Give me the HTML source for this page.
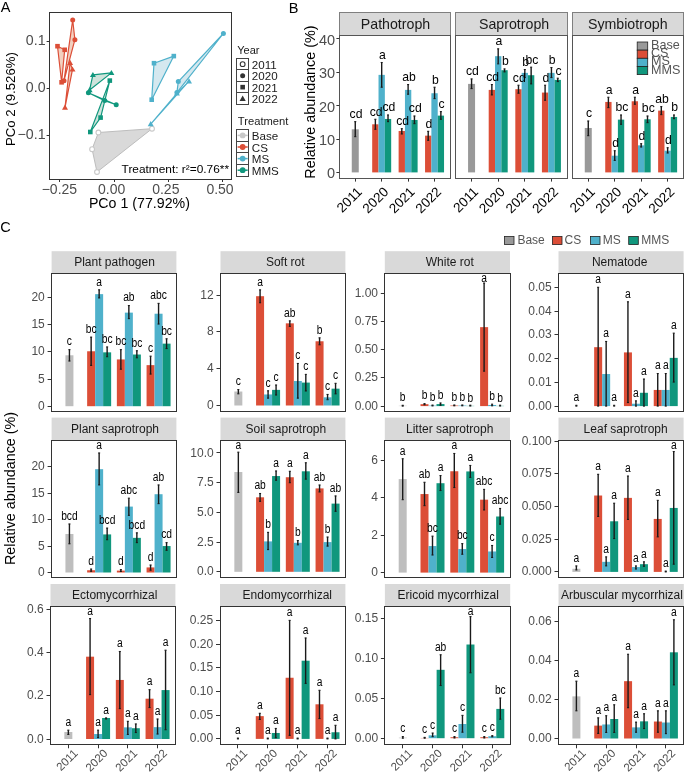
<!DOCTYPE html>
<html><head><meta charset="utf-8"><title>Figure</title>
<style>html,body{margin:0;padding:0;background:#fff;width:685px;height:777px;overflow:hidden}svg{display:block;font-family:"Liberation Sans",sans-serif;will-change:transform}</style>
</head><body>
<svg width="685" height="777" viewBox="0 0 685 777" font-family="Liberation Sans, sans-serif">
<rect width="685" height="777" fill="#fff"/>
<text x="0.7" y="12.4" font-size="14.5" fill="#000" text-anchor="start" >A</text>
<text x="288.8" y="12.5" font-size="14.5" fill="#000" text-anchor="start" >B</text>
<text x="0.2" y="231.9" font-size="14.5" fill="#000" text-anchor="start" >C</text>
<rect x="49.5" y="12.5" width="182" height="167" fill="#fff" stroke="#333" stroke-width="1" />
<polygon points="98.4,132.5 152,128.7 97,172 92.1,149.2" fill="#D9D9D9" fill-opacity="1" stroke="#BDBDBD" stroke-width="1" stroke-linejoin="round"/>
<polygon points="72.7,20 74.9,39.7 64,80.7" fill="#F2D0C0" fill-opacity="1" stroke="none" stroke-width="0" stroke-linejoin="round"/>
<polygon points="57.5,46.2 64.7,49.8 61.6,82.3" fill="#F2D0C0" fill-opacity="1" stroke="none" stroke-width="0" stroke-linejoin="round"/>
<polygon points="70.1,62.7 72.5,69.4 65,107.5" fill="#F2D0C0" fill-opacity="1" stroke="none" stroke-width="0" stroke-linejoin="round"/>
<polygon points="92.9,74.9 111.4,72.9 89.6,90" fill="#CFE3DB" fill-opacity="1" stroke="none" stroke-width="0" stroke-linejoin="round"/>
<polygon points="88.4,92.7 104.7,100.6 116.2,104.8" fill="#CFE3DB" fill-opacity="1" stroke="none" stroke-width="0" stroke-linejoin="round"/>
<polygon points="109.8,80.6 100.6,117.6 90.3,132" fill="#CFE3DB" fill-opacity="1" stroke="none" stroke-width="0" stroke-linejoin="round"/>
<polygon points="154,63.2 173.8,56.1 151.7,99.7" fill="#D5E8EF" fill-opacity="1" stroke="none" stroke-width="0" stroke-linejoin="round"/>
<polygon points="223.4,33.5 178.3,81.6 176.9,92.6" fill="#D5E8EF" fill-opacity="1" stroke="none" stroke-width="0" stroke-linejoin="round"/>
<polygon points="189,81.2 176.9,93.4 150.7,124.1" fill="#D5E8EF" fill-opacity="1" stroke="none" stroke-width="0" stroke-linejoin="round"/>
<polygon points="72.7,20 74.9,39.7 64,80.7" fill="none" fill-opacity="1" stroke="#DC4E37" stroke-width="1.2" stroke-linejoin="round"/>
<polygon points="57.5,46.2 64.7,49.8 61.6,82.3" fill="none" fill-opacity="1" stroke="#DC4E37" stroke-width="1.2" stroke-linejoin="round"/>
<polygon points="70.1,62.7 72.5,69.4 65,107.5" fill="none" fill-opacity="1" stroke="#DC4E37" stroke-width="1.2" stroke-linejoin="round"/>
<polygon points="92.9,74.9 111.4,72.9 89.6,90" fill="none" fill-opacity="1" stroke="#10977D" stroke-width="1.2" stroke-linejoin="round"/>
<polygon points="88.4,92.7 104.7,100.6 116.2,104.8" fill="none" fill-opacity="1" stroke="#10977D" stroke-width="1.2" stroke-linejoin="round"/>
<polygon points="109.8,80.6 100.6,117.6 90.3,132" fill="none" fill-opacity="1" stroke="#10977D" stroke-width="1.2" stroke-linejoin="round"/>
<polygon points="154,63.2 173.8,56.1 151.7,99.7" fill="none" fill-opacity="1" stroke="#4FB1CB" stroke-width="1.2" stroke-linejoin="round"/>
<polygon points="223.4,33.5 178.3,81.6 176.9,92.6" fill="none" fill-opacity="1" stroke="#4FB1CB" stroke-width="1.2" stroke-linejoin="round"/>
<polygon points="189,81.2 176.9,93.4 150.7,124.1" fill="none" fill-opacity="1" stroke="#4FB1CB" stroke-width="1.2" stroke-linejoin="round"/>
<circle cx="98.4" cy="132.5" r="2.4" fill="#fff" stroke="#C8C8C8" stroke-width="1.1"/>
<circle cx="152" cy="128.7" r="2.4" fill="#fff" stroke="#C8C8C8" stroke-width="1.1"/>
<circle cx="97" cy="172" r="2.4" fill="#fff" stroke="#C8C8C8" stroke-width="1.1"/>
<circle cx="92.1" cy="149.2" r="2.4" fill="#fff" stroke="#C8C8C8" stroke-width="1.1"/>
<circle cx="72.7" cy="20" r="2.5" fill="#DC4E37" stroke="none" stroke-width="0"/>
<circle cx="74.9" cy="39.7" r="2.5" fill="#DC4E37" stroke="none" stroke-width="0"/>
<circle cx="64" cy="80.7" r="2.5" fill="#DC4E37" stroke="none" stroke-width="0"/>
<circle cx="88.4" cy="92.7" r="2.5" fill="#10977D" stroke="none" stroke-width="0"/>
<circle cx="104.7" cy="100.6" r="2.5" fill="#10977D" stroke="none" stroke-width="0"/>
<circle cx="116.2" cy="104.8" r="2.5" fill="#10977D" stroke="none" stroke-width="0"/>
<circle cx="223.4" cy="33.5" r="2.5" fill="#4FB1CB" stroke="none" stroke-width="0"/>
<circle cx="178.3" cy="81.6" r="2.5" fill="#4FB1CB" stroke="none" stroke-width="0"/>
<circle cx="176.9" cy="92.6" r="2.5" fill="#4FB1CB" stroke="none" stroke-width="0"/>
<rect x="55.2" y="43.9" width="4.6" height="4.6" fill="#DC4E37" stroke="none" stroke-width="0" />
<rect x="62.4" y="47.5" width="4.6" height="4.6" fill="#DC4E37" stroke="none" stroke-width="0" />
<rect x="59.3" y="80" width="4.6" height="4.6" fill="#DC4E37" stroke="none" stroke-width="0" />
<rect x="107.5" y="78.3" width="4.6" height="4.6" fill="#10977D" stroke="none" stroke-width="0" />
<rect x="98.3" y="115.3" width="4.6" height="4.6" fill="#10977D" stroke="none" stroke-width="0" />
<rect x="88" y="129.7" width="4.6" height="4.6" fill="#10977D" stroke="none" stroke-width="0" />
<rect x="151.7" y="60.9" width="4.6" height="4.6" fill="#4FB1CB" stroke="none" stroke-width="0" />
<rect x="171.5" y="53.8" width="4.6" height="4.6" fill="#4FB1CB" stroke="none" stroke-width="0" />
<rect x="149.4" y="97.4" width="4.6" height="4.6" fill="#4FB1CB" stroke="none" stroke-width="0" />
<polygon points="70.1,59.69 67.1,64.89 73.1,64.89" fill="#DC4E37"/>
<polygon points="72.5,66.39 69.5,71.59 75.5,71.59" fill="#DC4E37"/>
<polygon points="65,104.49 62,109.69 68,109.69" fill="#DC4E37"/>
<polygon points="92.9,71.89 89.9,77.09 95.9,77.09" fill="#10977D"/>
<polygon points="111.4,69.89 108.4,75.09 114.4,75.09" fill="#10977D"/>
<polygon points="89.6,86.99 86.6,92.19 92.6,92.19" fill="#10977D"/>
<polygon points="189,78.19 186,83.39 192,83.39" fill="#4FB1CB"/>
<polygon points="176.9,90.39 173.9,95.59 179.9,95.59" fill="#4FB1CB"/>
<polygon points="150.7,121.09 147.7,126.29 153.7,126.29" fill="#4FB1CB"/>
<line x1="46.6" y1="41.5" x2="49.6" y2="41.5" stroke="#333" stroke-width="1" />
<text x="45.6" y="44.9" font-size="14.2" fill="#4D4D4D" text-anchor="end" >0.1</text>
<line x1="46.6" y1="88.5" x2="49.6" y2="88.5" stroke="#333" stroke-width="1" />
<text x="45.6" y="92.2" font-size="14.2" fill="#4D4D4D" text-anchor="end" >0.0</text>
<line x1="46.6" y1="135.5" x2="49.6" y2="135.5" stroke="#333" stroke-width="1" />
<text x="45.6" y="139.3" font-size="14.2" fill="#4D4D4D" text-anchor="end" >−0.1</text>
<line x1="59.5" y1="179" x2="59.5" y2="182" stroke="#333" stroke-width="1" />
<text x="59.4" y="194.3" font-size="14" fill="#4D4D4D" text-anchor="middle" >−0.25</text>
<line x1="114.5" y1="179" x2="114.5" y2="182" stroke="#333" stroke-width="1" />
<text x="111.6" y="194.3" font-size="14" fill="#4D4D4D" text-anchor="middle" >0.00</text>
<line x1="168.5" y1="179" x2="168.5" y2="182" stroke="#333" stroke-width="1" />
<text x="165.8" y="194.3" font-size="14" fill="#4D4D4D" text-anchor="middle" >0.25</text>
<line x1="222.5" y1="179" x2="222.5" y2="182" stroke="#333" stroke-width="1" />
<text x="220" y="194.3" font-size="14" fill="#4D4D4D" text-anchor="middle" >0.50</text>
<text x="139.4" y="208.4" font-size="14" fill="#000" text-anchor="middle" textLength="101" lengthAdjust="spacingAndGlyphs">PCo 1 (77.92%)</text>
<text transform="translate(15.2,99.1) rotate(-90)" font-size="13.6" text-anchor="middle" fill="#000" textLength="94" lengthAdjust="spacingAndGlyphs">PCo 2 (9.526%)</text>
<text x="121.6" y="172.5" font-size="11.8" fill="#000" text-anchor="start" textLength="107.4" lengthAdjust="spacingAndGlyphs">Treatment: r²=0.76**</text>
<text x="237.3" y="53.8" font-size="11" fill="#1a1a1a" text-anchor="start" >Year</text>
<rect x="236.5" y="58.5" width="12" height="11" fill="#fff" stroke="#444" stroke-width="1" />
<circle cx="242.65" cy="64.15" r="2.4" fill="#fff" stroke="#333" stroke-width="1.1"/>
<text x="251.8" y="68.75" font-size="11.6" fill="#1a1a1a" text-anchor="start" >2011</text>
<rect x="236.5" y="69.5" width="12" height="12" fill="#fff" stroke="#444" stroke-width="1" />
<circle cx="242.65" cy="75.65" r="2.5" fill="#333" stroke="none" stroke-width="0"/>
<text x="251.8" y="80.25" font-size="11.6" fill="#1a1a1a" text-anchor="start" >2020</text>
<rect x="236.5" y="81.5" width="12" height="11" fill="#fff" stroke="#444" stroke-width="1" />
<rect x="240.35" y="84.85" width="4.6" height="4.6" fill="#333" stroke="none" stroke-width="0" />
<text x="251.8" y="91.75" font-size="11.6" fill="#1a1a1a" text-anchor="start" >2021</text>
<rect x="236.5" y="92.5" width="12" height="12" fill="#fff" stroke="#444" stroke-width="1" />
<polygon points="242.65,95.53 239.55,100.92 245.75,100.92" fill="#333"/>
<text x="251.8" y="103.25" font-size="11.6" fill="#1a1a1a" text-anchor="start" >2022</text>
<text x="237.8" y="125.3" font-size="11.2" fill="#1a1a1a" text-anchor="start" >Treatment</text>
<rect x="236.5" y="129.5" width="12" height="12" fill="#fff" stroke="#444" stroke-width="1" />
<line x1="237.6" y1="135.4" x2="247.7" y2="135.4" stroke="#C8C8C8" stroke-width="1.5" />
<circle cx="242.65" cy="135.4" r="2.9" fill="#C8C8C8" stroke="none" stroke-width="0"/>
<text x="251.8" y="140" font-size="11.6" fill="#1a1a1a" text-anchor="start" >Base</text>
<rect x="236.5" y="141.5" width="12" height="11" fill="#fff" stroke="#444" stroke-width="1" />
<line x1="237.6" y1="147" x2="247.7" y2="147" stroke="#DC4E37" stroke-width="1.5" />
<circle cx="242.65" cy="147" r="2.9" fill="#DC4E37" stroke="none" stroke-width="0"/>
<text x="251.8" y="151.6" font-size="11.6" fill="#1a1a1a" text-anchor="start" >CS</text>
<rect x="236.5" y="152.5" width="12" height="12" fill="#fff" stroke="#444" stroke-width="1" />
<line x1="237.6" y1="158.6" x2="247.7" y2="158.6" stroke="#4FB1CB" stroke-width="1.5" />
<circle cx="242.65" cy="158.6" r="2.9" fill="#4FB1CB" stroke="none" stroke-width="0"/>
<text x="251.8" y="163.2" font-size="11.6" fill="#1a1a1a" text-anchor="start" >MS</text>
<rect x="236.5" y="164.5" width="12" height="12" fill="#fff" stroke="#444" stroke-width="1" />
<line x1="237.6" y1="170.2" x2="247.7" y2="170.2" stroke="#10977D" stroke-width="1.5" />
<circle cx="242.65" cy="170.2" r="2.9" fill="#10977D" stroke="none" stroke-width="0"/>
<text x="251.8" y="174.8" font-size="11.6" fill="#1a1a1a" text-anchor="start" >MMS</text>
<rect x="339.5" y="12.5" width="111" height="23" fill="#D9D9D9" stroke="#7F7F7F" stroke-width="1" />
<text x="395.5" y="29.4" font-size="14.2" fill="#1a1a1a" text-anchor="middle" >Pathotroph</text>
<rect x="339.5" y="35.5" width="111" height="143" fill="#fff" stroke="#555" stroke-width="1" />
<rect x="351.76" y="129.31" width="7" height="43.09" fill="#999999" stroke="none" stroke-width="0" />
<line x1="355.26" y1="136.66" x2="355.26" y2="121.63" stroke="#1a1a1a" stroke-width="1.4" />
<line x1="354.26" y1="121.63" x2="356.26" y2="121.63" stroke="#1a1a1a" stroke-width="1.1" />
<line x1="354.26" y1="136.66" x2="356.26" y2="136.66" stroke="#1a1a1a" stroke-width="1.1" />
<rect x="372.19" y="124.3" width="6.33" height="48.1" fill="#DC4E37" stroke="none" stroke-width="0" />
<line x1="375.36" y1="129.31" x2="375.36" y2="119.29" stroke="#1a1a1a" stroke-width="1.4" />
<line x1="374.36" y1="119.29" x2="376.36" y2="119.29" stroke="#1a1a1a" stroke-width="1.1" />
<line x1="374.36" y1="129.31" x2="376.36" y2="129.31" stroke="#1a1a1a" stroke-width="1.1" />
<rect x="378.52" y="74.87" width="6.33" height="97.53" fill="#4FB1CB" stroke="none" stroke-width="0" />
<line x1="381.69" y1="87.23" x2="381.69" y2="62.51" stroke="#1a1a1a" stroke-width="1.4" />
<line x1="380.69" y1="62.51" x2="382.69" y2="62.51" stroke="#1a1a1a" stroke-width="1.1" />
<line x1="380.69" y1="87.23" x2="382.69" y2="87.23" stroke="#1a1a1a" stroke-width="1.1" />
<rect x="384.85" y="118.96" width="6.33" height="53.44" fill="#10977D" stroke="none" stroke-width="0" />
<line x1="388.02" y1="121.63" x2="388.02" y2="114.95" stroke="#1a1a1a" stroke-width="1.4" />
<line x1="387.02" y1="114.95" x2="389.02" y2="114.95" stroke="#1a1a1a" stroke-width="1.1" />
<line x1="387.02" y1="121.63" x2="389.02" y2="121.63" stroke="#1a1a1a" stroke-width="1.1" />
<rect x="398.62" y="130.98" width="6.33" height="41.42" fill="#DC4E37" stroke="none" stroke-width="0" />
<line x1="401.78" y1="133.99" x2="401.78" y2="128.65" stroke="#1a1a1a" stroke-width="1.4" />
<line x1="400.78" y1="128.65" x2="402.78" y2="128.65" stroke="#1a1a1a" stroke-width="1.1" />
<line x1="400.78" y1="133.99" x2="402.78" y2="133.99" stroke="#1a1a1a" stroke-width="1.1" />
<rect x="404.95" y="89.9" width="6.33" height="82.5" fill="#4FB1CB" stroke="none" stroke-width="0" />
<line x1="408.11" y1="94.24" x2="408.11" y2="84.56" stroke="#1a1a1a" stroke-width="1.4" />
<line x1="407.11" y1="84.56" x2="409.11" y2="84.56" stroke="#1a1a1a" stroke-width="1.1" />
<line x1="407.11" y1="94.24" x2="409.11" y2="94.24" stroke="#1a1a1a" stroke-width="1.1" />
<rect x="411.28" y="119.96" width="6.33" height="52.44" fill="#10977D" stroke="none" stroke-width="0" />
<line x1="414.44" y1="123.64" x2="414.44" y2="115.95" stroke="#1a1a1a" stroke-width="1.4" />
<line x1="413.44" y1="115.95" x2="415.44" y2="115.95" stroke="#1a1a1a" stroke-width="1.1" />
<line x1="413.44" y1="123.64" x2="415.44" y2="123.64" stroke="#1a1a1a" stroke-width="1.1" />
<rect x="425.05" y="135.66" width="6.33" height="36.74" fill="#DC4E37" stroke="none" stroke-width="0" />
<line x1="428.21" y1="140.34" x2="428.21" y2="131.32" stroke="#1a1a1a" stroke-width="1.4" />
<line x1="427.21" y1="131.32" x2="429.21" y2="131.32" stroke="#1a1a1a" stroke-width="1.1" />
<line x1="427.21" y1="140.34" x2="429.21" y2="140.34" stroke="#1a1a1a" stroke-width="1.1" />
<rect x="431.38" y="93.24" width="6.33" height="79.16" fill="#4FB1CB" stroke="none" stroke-width="0" />
<line x1="434.54" y1="98.59" x2="434.54" y2="87.23" stroke="#1a1a1a" stroke-width="1.4" />
<line x1="433.54" y1="87.23" x2="435.54" y2="87.23" stroke="#1a1a1a" stroke-width="1.1" />
<line x1="433.54" y1="98.59" x2="435.54" y2="98.59" stroke="#1a1a1a" stroke-width="1.1" />
<rect x="437.71" y="115.62" width="6.33" height="56.78" fill="#10977D" stroke="none" stroke-width="0" />
<line x1="440.87" y1="119.29" x2="440.87" y2="111.61" stroke="#1a1a1a" stroke-width="1.4" />
<line x1="439.87" y1="111.61" x2="441.87" y2="111.61" stroke="#1a1a1a" stroke-width="1.1" />
<line x1="439.87" y1="119.29" x2="441.87" y2="119.29" stroke="#1a1a1a" stroke-width="1.1" />
<text x="356.06" y="118.03" font-size="12.2" fill="#000" text-anchor="middle" >cd</text>
<text x="376.16" y="115.69" font-size="12.2" fill="#000" text-anchor="middle" >cd</text>
<text x="382.49" y="58.91" font-size="12.2" fill="#000" text-anchor="middle" >a</text>
<text x="388.82" y="111.35" font-size="12.2" fill="#000" text-anchor="middle" >cd</text>
<text x="402.58" y="125.05" font-size="12.2" fill="#000" text-anchor="middle" >cd</text>
<text x="408.91" y="80.96" font-size="12.2" fill="#000" text-anchor="middle" >ab</text>
<text x="415.24" y="112.35" font-size="12.2" fill="#000" text-anchor="middle" >cd</text>
<text x="429.01" y="127.72" font-size="12.2" fill="#000" text-anchor="middle" >d</text>
<text x="435.34" y="83.63" font-size="12.2" fill="#000" text-anchor="middle" >b</text>
<text x="441.67" y="108.01" font-size="12.2" fill="#000" text-anchor="middle" >c</text>
<line x1="355.5" y1="178.8" x2="355.5" y2="181.6" stroke="#333" stroke-width="1" />
<text transform="translate(355.96,185.8) rotate(-45)" font-size="13.5" text-anchor="end" fill="#000" dy="0.72em">2011</text>
<line x1="381.5" y1="178.8" x2="381.5" y2="181.6" stroke="#333" stroke-width="1" />
<text transform="translate(382.39,185.8) rotate(-45)" font-size="13.5" text-anchor="end" fill="#000" dy="0.72em">2020</text>
<line x1="408.5" y1="178.8" x2="408.5" y2="181.6" stroke="#333" stroke-width="1" />
<text transform="translate(408.81,185.8) rotate(-45)" font-size="13.5" text-anchor="end" fill="#000" dy="0.72em">2021</text>
<line x1="434.5" y1="178.8" x2="434.5" y2="181.6" stroke="#333" stroke-width="1" />
<text transform="translate(435.24,185.8) rotate(-45)" font-size="13.5" text-anchor="end" fill="#000" dy="0.72em">2022</text>
<line x1="336.4" y1="172.5" x2="339.4" y2="172.5" stroke="#333" stroke-width="1" />
<text x="335.2" y="178.4" font-size="14.5" fill="#4D4D4D" text-anchor="end" >0</text>
<line x1="336.4" y1="139.5" x2="339.4" y2="139.5" stroke="#333" stroke-width="1" />
<text x="335.2" y="145" font-size="14.5" fill="#4D4D4D" text-anchor="end" >10</text>
<line x1="336.4" y1="105.5" x2="339.4" y2="105.5" stroke="#333" stroke-width="1" />
<text x="335.2" y="111.6" font-size="14.5" fill="#4D4D4D" text-anchor="end" >20</text>
<line x1="336.4" y1="72.5" x2="339.4" y2="72.5" stroke="#333" stroke-width="1" />
<text x="335.2" y="78.2" font-size="14.5" fill="#4D4D4D" text-anchor="end" >30</text>
<line x1="336.4" y1="38.5" x2="339.4" y2="38.5" stroke="#333" stroke-width="1" />
<text x="335.2" y="44.8" font-size="14.5" fill="#4D4D4D" text-anchor="end" >40</text>
<rect x="455.5" y="12.5" width="112" height="23" fill="#D9D9D9" stroke="#7F7F7F" stroke-width="1" />
<text x="514.1" y="29.4" font-size="14.2" fill="#1a1a1a" text-anchor="middle" >Saprotroph</text>
<rect x="455.5" y="35.5" width="112" height="143" fill="#fff" stroke="#555" stroke-width="1" />
<rect x="468.07" y="83.89" width="7" height="88.51" fill="#999999" stroke="none" stroke-width="0" />
<line x1="471.57" y1="88.57" x2="471.57" y2="78.88" stroke="#1a1a1a" stroke-width="1.4" />
<line x1="470.57" y1="78.88" x2="472.57" y2="78.88" stroke="#1a1a1a" stroke-width="1.1" />
<line x1="470.57" y1="88.57" x2="472.57" y2="88.57" stroke="#1a1a1a" stroke-width="1.1" />
<rect x="488.7" y="89.9" width="6.33" height="82.5" fill="#DC4E37" stroke="none" stroke-width="0" />
<line x1="491.86" y1="94.91" x2="491.86" y2="84.56" stroke="#1a1a1a" stroke-width="1.4" />
<line x1="490.86" y1="84.56" x2="492.86" y2="84.56" stroke="#1a1a1a" stroke-width="1.1" />
<line x1="490.86" y1="94.91" x2="492.86" y2="94.91" stroke="#1a1a1a" stroke-width="1.1" />
<rect x="495.03" y="56.17" width="6.33" height="116.23" fill="#4FB1CB" stroke="none" stroke-width="0" />
<line x1="498.19" y1="63.85" x2="498.19" y2="48.82" stroke="#1a1a1a" stroke-width="1.4" />
<line x1="497.19" y1="48.82" x2="499.19" y2="48.82" stroke="#1a1a1a" stroke-width="1.1" />
<line x1="497.19" y1="63.85" x2="499.19" y2="63.85" stroke="#1a1a1a" stroke-width="1.1" />
<rect x="501.36" y="70.2" width="6.33" height="102.2" fill="#10977D" stroke="none" stroke-width="0" />
<line x1="504.52" y1="71.87" x2="504.52" y2="68.86" stroke="#1a1a1a" stroke-width="1.4" />
<line x1="503.52" y1="68.86" x2="505.52" y2="68.86" stroke="#1a1a1a" stroke-width="1.1" />
<line x1="503.52" y1="71.87" x2="505.52" y2="71.87" stroke="#1a1a1a" stroke-width="1.1" />
<rect x="515.31" y="89.23" width="6.33" height="83.17" fill="#DC4E37" stroke="none" stroke-width="0" />
<line x1="518.48" y1="93.24" x2="518.48" y2="85.23" stroke="#1a1a1a" stroke-width="1.4" />
<line x1="517.48" y1="85.23" x2="519.48" y2="85.23" stroke="#1a1a1a" stroke-width="1.1" />
<line x1="517.48" y1="93.24" x2="519.48" y2="93.24" stroke="#1a1a1a" stroke-width="1.1" />
<rect x="521.64" y="72.87" width="6.33" height="99.53" fill="#4FB1CB" stroke="none" stroke-width="0" />
<line x1="524.81" y1="77.54" x2="524.81" y2="69.53" stroke="#1a1a1a" stroke-width="1.4" />
<line x1="523.81" y1="69.53" x2="525.81" y2="69.53" stroke="#1a1a1a" stroke-width="1.1" />
<line x1="523.81" y1="77.54" x2="525.81" y2="77.54" stroke="#1a1a1a" stroke-width="1.1" />
<rect x="527.97" y="75.21" width="6.33" height="97.19" fill="#10977D" stroke="none" stroke-width="0" />
<line x1="531.14" y1="83.89" x2="531.14" y2="67.19" stroke="#1a1a1a" stroke-width="1.4" />
<line x1="530.14" y1="67.19" x2="532.14" y2="67.19" stroke="#1a1a1a" stroke-width="1.1" />
<line x1="530.14" y1="83.89" x2="532.14" y2="83.89" stroke="#1a1a1a" stroke-width="1.1" />
<rect x="541.93" y="92.57" width="6.33" height="79.83" fill="#DC4E37" stroke="none" stroke-width="0" />
<line x1="545.1" y1="100.26" x2="545.1" y2="85.23" stroke="#1a1a1a" stroke-width="1.4" />
<line x1="544.1" y1="85.23" x2="546.1" y2="85.23" stroke="#1a1a1a" stroke-width="1.1" />
<line x1="544.1" y1="100.26" x2="546.1" y2="100.26" stroke="#1a1a1a" stroke-width="1.1" />
<rect x="548.26" y="72.87" width="6.33" height="99.53" fill="#4FB1CB" stroke="none" stroke-width="0" />
<line x1="551.43" y1="77.54" x2="551.43" y2="67.52" stroke="#1a1a1a" stroke-width="1.4" />
<line x1="550.43" y1="67.52" x2="552.43" y2="67.52" stroke="#1a1a1a" stroke-width="1.1" />
<line x1="550.43" y1="77.54" x2="552.43" y2="77.54" stroke="#1a1a1a" stroke-width="1.1" />
<rect x="554.59" y="79.88" width="6.33" height="92.52" fill="#10977D" stroke="none" stroke-width="0" />
<line x1="557.76" y1="81.55" x2="557.76" y2="78.21" stroke="#1a1a1a" stroke-width="1.4" />
<line x1="556.76" y1="78.21" x2="558.76" y2="78.21" stroke="#1a1a1a" stroke-width="1.1" />
<line x1="556.76" y1="81.55" x2="558.76" y2="81.55" stroke="#1a1a1a" stroke-width="1.1" />
<text x="472.37" y="75.28" font-size="12.2" fill="#000" text-anchor="middle" >cd</text>
<text x="492.66" y="80.96" font-size="12.2" fill="#000" text-anchor="middle" >cd</text>
<text x="498.99" y="45.22" font-size="12.2" fill="#000" text-anchor="middle" >a</text>
<text x="505.32" y="65.26" font-size="12.2" fill="#000" text-anchor="middle" >b</text>
<text x="519.28" y="81.63" font-size="12.2" fill="#000" text-anchor="middle" >cd</text>
<text x="525.61" y="65.93" font-size="12.2" fill="#000" text-anchor="middle" >b</text>
<text x="531.94" y="63.59" font-size="12.2" fill="#000" text-anchor="middle" >bc</text>
<text x="545.9" y="81.63" font-size="12.2" fill="#000" text-anchor="middle" >d</text>
<text x="552.23" y="63.92" font-size="12.2" fill="#000" text-anchor="middle" >b</text>
<text x="558.56" y="74.61" font-size="12.2" fill="#000" text-anchor="middle" >c</text>
<line x1="471.5" y1="178.8" x2="471.5" y2="181.6" stroke="#333" stroke-width="1" />
<text transform="translate(472.27,185.8) rotate(-45)" font-size="13.5" text-anchor="end" fill="#000" dy="0.72em">2011</text>
<line x1="498.5" y1="178.8" x2="498.5" y2="181.6" stroke="#333" stroke-width="1" />
<text transform="translate(498.89,185.8) rotate(-45)" font-size="13.5" text-anchor="end" fill="#000" dy="0.72em">2020</text>
<line x1="524.5" y1="178.8" x2="524.5" y2="181.6" stroke="#333" stroke-width="1" />
<text transform="translate(525.51,185.8) rotate(-45)" font-size="13.5" text-anchor="end" fill="#000" dy="0.72em">2021</text>
<line x1="551.5" y1="178.8" x2="551.5" y2="181.6" stroke="#333" stroke-width="1" />
<text transform="translate(552.13,185.8) rotate(-45)" font-size="13.5" text-anchor="end" fill="#000" dy="0.72em">2022</text>
<rect x="572.5" y="12.5" width="111" height="23" fill="#D9D9D9" stroke="#7F7F7F" stroke-width="1" />
<text x="627.75" y="29.4" font-size="14.2" fill="#1a1a1a" text-anchor="middle" >Symbiotroph</text>
<rect x="572.5" y="35.5" width="111" height="143" fill="#fff" stroke="#555" stroke-width="1" />
<rect x="584.77" y="127.98" width="7" height="44.42" fill="#999999" stroke="none" stroke-width="0" />
<line x1="588.27" y1="135.66" x2="588.27" y2="120.96" stroke="#1a1a1a" stroke-width="1.4" />
<line x1="587.27" y1="120.96" x2="589.27" y2="120.96" stroke="#1a1a1a" stroke-width="1.1" />
<line x1="587.27" y1="135.66" x2="589.27" y2="135.66" stroke="#1a1a1a" stroke-width="1.1" />
<rect x="605.23" y="101.93" width="6.33" height="70.47" fill="#DC4E37" stroke="none" stroke-width="0" />
<line x1="608.39" y1="107.6" x2="608.39" y2="97.25" stroke="#1a1a1a" stroke-width="1.4" />
<line x1="607.39" y1="97.25" x2="609.39" y2="97.25" stroke="#1a1a1a" stroke-width="1.1" />
<line x1="607.39" y1="107.6" x2="609.39" y2="107.6" stroke="#1a1a1a" stroke-width="1.1" />
<rect x="611.56" y="155.7" width="6.33" height="16.7" fill="#4FB1CB" stroke="none" stroke-width="0" />
<line x1="614.72" y1="160.38" x2="614.72" y2="150.69" stroke="#1a1a1a" stroke-width="1.4" />
<line x1="613.72" y1="150.69" x2="615.72" y2="150.69" stroke="#1a1a1a" stroke-width="1.1" />
<line x1="613.72" y1="160.38" x2="615.72" y2="160.38" stroke="#1a1a1a" stroke-width="1.1" />
<rect x="617.89" y="119.63" width="6.33" height="52.77" fill="#10977D" stroke="none" stroke-width="0" />
<line x1="621.05" y1="124.3" x2="621.05" y2="114.95" stroke="#1a1a1a" stroke-width="1.4" />
<line x1="620.05" y1="114.95" x2="622.05" y2="114.95" stroke="#1a1a1a" stroke-width="1.1" />
<line x1="620.05" y1="124.3" x2="622.05" y2="124.3" stroke="#1a1a1a" stroke-width="1.1" />
<rect x="631.68" y="101.26" width="6.33" height="71.14" fill="#DC4E37" stroke="none" stroke-width="0" />
<line x1="634.85" y1="104.26" x2="634.85" y2="97.25" stroke="#1a1a1a" stroke-width="1.4" />
<line x1="633.85" y1="97.25" x2="635.85" y2="97.25" stroke="#1a1a1a" stroke-width="1.1" />
<line x1="633.85" y1="104.26" x2="635.85" y2="104.26" stroke="#1a1a1a" stroke-width="1.1" />
<rect x="638.01" y="145.35" width="6.33" height="27.05" fill="#4FB1CB" stroke="none" stroke-width="0" />
<line x1="641.18" y1="147.02" x2="641.18" y2="143.68" stroke="#1a1a1a" stroke-width="1.4" />
<line x1="640.18" y1="143.68" x2="642.18" y2="143.68" stroke="#1a1a1a" stroke-width="1.1" />
<line x1="640.18" y1="147.02" x2="642.18" y2="147.02" stroke="#1a1a1a" stroke-width="1.1" />
<rect x="644.34" y="119.29" width="6.33" height="53.11" fill="#10977D" stroke="none" stroke-width="0" />
<line x1="647.51" y1="122.63" x2="647.51" y2="115.95" stroke="#1a1a1a" stroke-width="1.4" />
<line x1="646.51" y1="115.95" x2="648.51" y2="115.95" stroke="#1a1a1a" stroke-width="1.1" />
<line x1="646.51" y1="122.63" x2="648.51" y2="122.63" stroke="#1a1a1a" stroke-width="1.1" />
<rect x="658.13" y="110.61" width="6.33" height="61.79" fill="#DC4E37" stroke="none" stroke-width="0" />
<line x1="661.3" y1="114.62" x2="661.3" y2="106.6" stroke="#1a1a1a" stroke-width="1.4" />
<line x1="660.3" y1="106.6" x2="662.3" y2="106.6" stroke="#1a1a1a" stroke-width="1.1" />
<line x1="660.3" y1="114.62" x2="662.3" y2="114.62" stroke="#1a1a1a" stroke-width="1.1" />
<rect x="664.46" y="150.69" width="6.33" height="21.71" fill="#4FB1CB" stroke="none" stroke-width="0" />
<line x1="667.63" y1="153.03" x2="667.63" y2="147.68" stroke="#1a1a1a" stroke-width="1.4" />
<line x1="666.63" y1="147.68" x2="668.63" y2="147.68" stroke="#1a1a1a" stroke-width="1.1" />
<line x1="666.63" y1="153.03" x2="668.63" y2="153.03" stroke="#1a1a1a" stroke-width="1.1" />
<rect x="670.79" y="116.96" width="6.33" height="55.44" fill="#10977D" stroke="none" stroke-width="0" />
<line x1="673.96" y1="118.63" x2="673.96" y2="114.95" stroke="#1a1a1a" stroke-width="1.4" />
<line x1="672.96" y1="114.95" x2="674.96" y2="114.95" stroke="#1a1a1a" stroke-width="1.1" />
<line x1="672.96" y1="118.63" x2="674.96" y2="118.63" stroke="#1a1a1a" stroke-width="1.1" />
<text x="589.07" y="117.36" font-size="12.2" fill="#000" text-anchor="middle" >c</text>
<text x="609.19" y="93.65" font-size="12.2" fill="#000" text-anchor="middle" >a</text>
<text x="615.52" y="147.09" font-size="12.2" fill="#000" text-anchor="middle" >d</text>
<text x="621.85" y="111.35" font-size="12.2" fill="#000" text-anchor="middle" >bc</text>
<text x="635.65" y="93.65" font-size="12.2" fill="#000" text-anchor="middle" >a</text>
<text x="641.98" y="140.08" font-size="12.2" fill="#000" text-anchor="middle" >d</text>
<text x="648.31" y="112.35" font-size="12.2" fill="#000" text-anchor="middle" >bc</text>
<text x="662.1" y="103" font-size="12.2" fill="#000" text-anchor="middle" >ab</text>
<text x="668.43" y="144.08" font-size="12.2" fill="#000" text-anchor="middle" >d</text>
<text x="674.76" y="111.35" font-size="12.2" fill="#000" text-anchor="middle" >b</text>
<line x1="588.5" y1="178.8" x2="588.5" y2="181.6" stroke="#333" stroke-width="1" />
<text transform="translate(588.97,185.8) rotate(-45)" font-size="13.5" text-anchor="end" fill="#000" dy="0.72em">2011</text>
<line x1="614.5" y1="178.8" x2="614.5" y2="181.6" stroke="#333" stroke-width="1" />
<text transform="translate(615.42,185.8) rotate(-45)" font-size="13.5" text-anchor="end" fill="#000" dy="0.72em">2020</text>
<line x1="641.5" y1="178.8" x2="641.5" y2="181.6" stroke="#333" stroke-width="1" />
<text transform="translate(641.88,185.8) rotate(-45)" font-size="13.5" text-anchor="end" fill="#000" dy="0.72em">2021</text>
<line x1="667.5" y1="178.8" x2="667.5" y2="181.6" stroke="#333" stroke-width="1" />
<text transform="translate(668.33,185.8) rotate(-45)" font-size="13.5" text-anchor="end" fill="#000" dy="0.72em">2022</text>
<text transform="translate(314.6,102.05) rotate(-90)" font-size="14.4" text-anchor="middle" fill="#000" textLength="153.3" lengthAdjust="spacingAndGlyphs">Relative abundance (%)</text>
<rect x="637.2" y="42" width="10.5" height="8.15" fill="#999999" stroke="#222" stroke-width="0.8" />
<rect x="637.2" y="50.15" width="10.5" height="8.15" fill="#DC4E37" stroke="#222" stroke-width="0.8" />
<rect x="637.2" y="58.3" width="10.5" height="8.15" fill="#4FB1CB" stroke="#222" stroke-width="0.8" />
<rect x="637.2" y="66.45" width="10.5" height="8.15" fill="#10977D" stroke="#222" stroke-width="0.8" />
<text x="651" y="48.9" font-size="12.6" fill="#555" text-anchor="start" >Base</text>
<text x="651" y="57.3" font-size="12.6" fill="#555" text-anchor="start" >CS</text>
<text x="651" y="65.3" font-size="12.6" fill="#555" text-anchor="start" >MS</text>
<text x="651" y="73.8" font-size="12.6" fill="#555" text-anchor="start" >MMS</text>
<rect x="51.6" y="251.2" width="124.8" height="22.4" fill="#D9D9D9" stroke="none" stroke-width="0" />
<text x="114.5" y="266.4" font-size="12" fill="#1a1a1a" text-anchor="middle" >Plant pathogen</text>
<rect x="51.5" y="273.5" width="125" height="138" fill="#fff" stroke="#333" stroke-width="1" />
<rect x="65.43" y="355.28" width="8" height="50.92" fill="#BEBEBE" stroke="none" stroke-width="0" />
<line x1="69.43" y1="361.05" x2="69.43" y2="349.62" stroke="#1a1a1a" stroke-width="1.4" />
<line x1="68.43" y1="349.62" x2="70.43" y2="349.62" stroke="#1a1a1a" stroke-width="1.1" />
<line x1="68.43" y1="361.05" x2="70.43" y2="361.05" stroke="#1a1a1a" stroke-width="1.1" />
<rect x="87.14" y="351.26" width="8" height="54.94" fill="#DC4E37" stroke="none" stroke-width="0" />
<line x1="91.14" y1="365.4" x2="91.14" y2="337.11" stroke="#1a1a1a" stroke-width="1.4" />
<line x1="90.14" y1="337.11" x2="92.14" y2="337.11" stroke="#1a1a1a" stroke-width="1.1" />
<line x1="90.14" y1="365.4" x2="92.14" y2="365.4" stroke="#1a1a1a" stroke-width="1.1" />
<rect x="95.14" y="294.14" width="8" height="112.06" fill="#4FB1CB" stroke="none" stroke-width="0" />
<line x1="99.14" y1="297.94" x2="99.14" y2="289.78" stroke="#1a1a1a" stroke-width="1.4" />
<line x1="98.14" y1="289.78" x2="100.14" y2="289.78" stroke="#1a1a1a" stroke-width="1.1" />
<line x1="98.14" y1="297.94" x2="100.14" y2="297.94" stroke="#1a1a1a" stroke-width="1.1" />
<rect x="103.14" y="352.34" width="8" height="53.86" fill="#10977D" stroke="none" stroke-width="0" />
<line x1="107.14" y1="356.7" x2="107.14" y2="346.9" stroke="#1a1a1a" stroke-width="1.4" />
<line x1="106.14" y1="346.9" x2="108.14" y2="346.9" stroke="#1a1a1a" stroke-width="1.1" />
<line x1="106.14" y1="356.7" x2="108.14" y2="356.7" stroke="#1a1a1a" stroke-width="1.1" />
<rect x="116.86" y="359.42" width="8" height="46.78" fill="#DC4E37" stroke="none" stroke-width="0" />
<line x1="120.86" y1="369.21" x2="120.86" y2="349.62" stroke="#1a1a1a" stroke-width="1.4" />
<line x1="119.86" y1="349.62" x2="121.86" y2="349.62" stroke="#1a1a1a" stroke-width="1.1" />
<line x1="119.86" y1="369.21" x2="121.86" y2="369.21" stroke="#1a1a1a" stroke-width="1.1" />
<rect x="124.86" y="312.63" width="8" height="93.57" fill="#4FB1CB" stroke="none" stroke-width="0" />
<line x1="128.86" y1="318.62" x2="128.86" y2="305.56" stroke="#1a1a1a" stroke-width="1.4" />
<line x1="127.86" y1="305.56" x2="129.86" y2="305.56" stroke="#1a1a1a" stroke-width="1.1" />
<line x1="127.86" y1="318.62" x2="129.86" y2="318.62" stroke="#1a1a1a" stroke-width="1.1" />
<rect x="132.86" y="354.52" width="8" height="51.68" fill="#10977D" stroke="none" stroke-width="0" />
<line x1="136.86" y1="357.78" x2="136.86" y2="350.71" stroke="#1a1a1a" stroke-width="1.4" />
<line x1="135.86" y1="350.71" x2="137.86" y2="350.71" stroke="#1a1a1a" stroke-width="1.1" />
<line x1="135.86" y1="357.78" x2="137.86" y2="357.78" stroke="#1a1a1a" stroke-width="1.1" />
<rect x="146.57" y="365.13" width="8" height="41.07" fill="#DC4E37" stroke="none" stroke-width="0" />
<line x1="150.57" y1="374.1" x2="150.57" y2="356.15" stroke="#1a1a1a" stroke-width="1.4" />
<line x1="149.57" y1="356.15" x2="151.57" y2="356.15" stroke="#1a1a1a" stroke-width="1.1" />
<line x1="149.57" y1="374.1" x2="151.57" y2="374.1" stroke="#1a1a1a" stroke-width="1.1" />
<rect x="154.57" y="313.72" width="8" height="92.48" fill="#4FB1CB" stroke="none" stroke-width="0" />
<line x1="158.57" y1="324.06" x2="158.57" y2="303.38" stroke="#1a1a1a" stroke-width="1.4" />
<line x1="157.57" y1="303.38" x2="159.57" y2="303.38" stroke="#1a1a1a" stroke-width="1.1" />
<line x1="157.57" y1="324.06" x2="159.57" y2="324.06" stroke="#1a1a1a" stroke-width="1.1" />
<rect x="162.57" y="343.64" width="8" height="62.56" fill="#10977D" stroke="none" stroke-width="0" />
<line x1="166.57" y1="348.54" x2="166.57" y2="338.74" stroke="#1a1a1a" stroke-width="1.4" />
<line x1="165.57" y1="338.74" x2="167.57" y2="338.74" stroke="#1a1a1a" stroke-width="1.1" />
<line x1="165.57" y1="348.54" x2="167.57" y2="348.54" stroke="#1a1a1a" stroke-width="1.1" />
<text transform="translate(69.43,345.42) scale(0.82,1)" font-size="12.5" text-anchor="middle" fill="#000">c</text>
<text transform="translate(91.14,332.91) scale(0.82,1)" font-size="12.5" text-anchor="middle" fill="#000">bc</text>
<text transform="translate(99.14,285.58) scale(0.82,1)" font-size="12.5" text-anchor="middle" fill="#000">a</text>
<text transform="translate(107.14,342.7) scale(0.82,1)" font-size="12.5" text-anchor="middle" fill="#000">bc</text>
<text transform="translate(120.86,345.42) scale(0.82,1)" font-size="12.5" text-anchor="middle" fill="#000">bc</text>
<text transform="translate(128.86,301.36) scale(0.82,1)" font-size="12.5" text-anchor="middle" fill="#000">ab</text>
<text transform="translate(136.86,346.51) scale(0.82,1)" font-size="12.5" text-anchor="middle" fill="#000">bc</text>
<text transform="translate(150.57,351.95) scale(0.82,1)" font-size="12.5" text-anchor="middle" fill="#000">c</text>
<text transform="translate(158.57,299.18) scale(0.82,1)" font-size="12.5" text-anchor="middle" fill="#000">abc</text>
<text transform="translate(166.57,334.54) scale(0.82,1)" font-size="12.5" text-anchor="middle" fill="#000">bc</text>
<line x1="47.6" y1="406.5" x2="51.6" y2="406.5" stroke="#333" stroke-width="1" />
<text x="44.8" y="409.7" font-size="12" fill="#4D4D4D" text-anchor="end" >0</text>
<line x1="47.6" y1="379.5" x2="51.6" y2="379.5" stroke="#333" stroke-width="1" />
<text x="44.8" y="382.5" font-size="12" fill="#4D4D4D" text-anchor="end" >5</text>
<line x1="47.6" y1="351.5" x2="51.6" y2="351.5" stroke="#333" stroke-width="1" />
<text x="44.8" y="355.3" font-size="12" fill="#4D4D4D" text-anchor="end" >10</text>
<line x1="47.6" y1="324.5" x2="51.6" y2="324.5" stroke="#333" stroke-width="1" />
<text x="44.8" y="328.1" font-size="12" fill="#4D4D4D" text-anchor="end" >15</text>
<line x1="47.6" y1="297.5" x2="51.6" y2="297.5" stroke="#333" stroke-width="1" />
<text x="44.8" y="300.9" font-size="12" fill="#4D4D4D" text-anchor="end" >20</text>
<rect x="220.5" y="251.2" width="124.9" height="22.4" fill="#D9D9D9" stroke="none" stroke-width="0" />
<text x="285.25" y="266.4" font-size="12" fill="#1a1a1a" text-anchor="middle" >Soft rot</text>
<rect x="220.5" y="273.5" width="125" height="138" fill="#fff" stroke="#333" stroke-width="1" />
<rect x="234.34" y="391.52" width="8" height="13.98" fill="#BEBEBE" stroke="none" stroke-width="0" />
<line x1="238.34" y1="393.82" x2="238.34" y2="389.58" stroke="#1a1a1a" stroke-width="1.4" />
<line x1="237.34" y1="389.58" x2="239.34" y2="389.58" stroke="#1a1a1a" stroke-width="1.1" />
<line x1="237.34" y1="393.82" x2="239.34" y2="393.82" stroke="#1a1a1a" stroke-width="1.1" />
<rect x="256.08" y="296.2" width="8" height="109.3" fill="#DC4E37" stroke="none" stroke-width="0" />
<line x1="260.08" y1="302.74" x2="260.08" y2="289.86" stroke="#1a1a1a" stroke-width="1.4" />
<line x1="259.08" y1="289.86" x2="261.08" y2="289.86" stroke="#1a1a1a" stroke-width="1.1" />
<line x1="259.08" y1="302.74" x2="261.08" y2="302.74" stroke="#1a1a1a" stroke-width="1.1" />
<rect x="264.08" y="394.46" width="8" height="11.04" fill="#4FB1CB" stroke="none" stroke-width="0" />
<line x1="268.08" y1="398.14" x2="268.08" y2="390.78" stroke="#1a1a1a" stroke-width="1.4" />
<line x1="267.08" y1="390.78" x2="269.08" y2="390.78" stroke="#1a1a1a" stroke-width="1.1" />
<line x1="267.08" y1="398.14" x2="269.08" y2="398.14" stroke="#1a1a1a" stroke-width="1.1" />
<rect x="272.08" y="389.86" width="8" height="15.64" fill="#10977D" stroke="none" stroke-width="0" />
<line x1="276.08" y1="395.01" x2="276.08" y2="384.98" stroke="#1a1a1a" stroke-width="1.4" />
<line x1="275.08" y1="384.98" x2="277.08" y2="384.98" stroke="#1a1a1a" stroke-width="1.1" />
<line x1="275.08" y1="395.01" x2="277.08" y2="395.01" stroke="#1a1a1a" stroke-width="1.1" />
<rect x="285.82" y="323.34" width="8" height="82.16" fill="#DC4E37" stroke="none" stroke-width="0" />
<line x1="289.82" y1="326.38" x2="289.82" y2="320.86" stroke="#1a1a1a" stroke-width="1.4" />
<line x1="288.82" y1="320.86" x2="290.82" y2="320.86" stroke="#1a1a1a" stroke-width="1.1" />
<line x1="288.82" y1="326.38" x2="290.82" y2="326.38" stroke="#1a1a1a" stroke-width="1.1" />
<rect x="293.82" y="381.03" width="8" height="24.47" fill="#4FB1CB" stroke="none" stroke-width="0" />
<line x1="297.82" y1="398.14" x2="297.82" y2="363.46" stroke="#1a1a1a" stroke-width="1.4" />
<line x1="296.82" y1="363.46" x2="298.82" y2="363.46" stroke="#1a1a1a" stroke-width="1.1" />
<line x1="296.82" y1="398.14" x2="298.82" y2="398.14" stroke="#1a1a1a" stroke-width="1.1" />
<rect x="301.82" y="382.59" width="8" height="22.91" fill="#10977D" stroke="none" stroke-width="0" />
<line x1="305.82" y1="390.96" x2="305.82" y2="374.4" stroke="#1a1a1a" stroke-width="1.4" />
<line x1="304.82" y1="374.4" x2="306.82" y2="374.4" stroke="#1a1a1a" stroke-width="1.1" />
<line x1="304.82" y1="390.96" x2="306.82" y2="390.96" stroke="#1a1a1a" stroke-width="1.1" />
<rect x="315.56" y="341.28" width="8" height="64.22" fill="#DC4E37" stroke="none" stroke-width="0" />
<line x1="319.56" y1="344.78" x2="319.56" y2="337.79" stroke="#1a1a1a" stroke-width="1.4" />
<line x1="318.56" y1="337.79" x2="320.56" y2="337.79" stroke="#1a1a1a" stroke-width="1.1" />
<line x1="318.56" y1="344.78" x2="320.56" y2="344.78" stroke="#1a1a1a" stroke-width="1.1" />
<rect x="323.56" y="397.31" width="8" height="8.19" fill="#4FB1CB" stroke="none" stroke-width="0" />
<line x1="327.56" y1="399.7" x2="327.56" y2="394.46" stroke="#1a1a1a" stroke-width="1.4" />
<line x1="326.56" y1="394.46" x2="328.56" y2="394.46" stroke="#1a1a1a" stroke-width="1.1" />
<line x1="326.56" y1="399.7" x2="328.56" y2="399.7" stroke="#1a1a1a" stroke-width="1.1" />
<rect x="331.56" y="388.66" width="8" height="16.84" fill="#10977D" stroke="none" stroke-width="0" />
<line x1="335.56" y1="393.82" x2="335.56" y2="383.33" stroke="#1a1a1a" stroke-width="1.4" />
<line x1="334.56" y1="383.33" x2="336.56" y2="383.33" stroke="#1a1a1a" stroke-width="1.1" />
<line x1="334.56" y1="393.82" x2="336.56" y2="393.82" stroke="#1a1a1a" stroke-width="1.1" />
<text transform="translate(238.34,385.38) scale(0.82,1)" font-size="12.5" text-anchor="middle" fill="#000">c</text>
<text transform="translate(260.08,285.66) scale(0.82,1)" font-size="12.5" text-anchor="middle" fill="#000">a</text>
<text transform="translate(268.08,386.58) scale(0.82,1)" font-size="12.5" text-anchor="middle" fill="#000">c</text>
<text transform="translate(276.08,380.78) scale(0.82,1)" font-size="12.5" text-anchor="middle" fill="#000">c</text>
<text transform="translate(289.82,316.66) scale(0.82,1)" font-size="12.5" text-anchor="middle" fill="#000">ab</text>
<text transform="translate(297.82,359.26) scale(0.82,1)" font-size="12.5" text-anchor="middle" fill="#000">c</text>
<text transform="translate(305.82,370.2) scale(0.82,1)" font-size="12.5" text-anchor="middle" fill="#000">c</text>
<text transform="translate(319.56,333.59) scale(0.82,1)" font-size="12.5" text-anchor="middle" fill="#000">b</text>
<text transform="translate(327.56,390.26) scale(0.82,1)" font-size="12.5" text-anchor="middle" fill="#000">c</text>
<text transform="translate(335.56,379.13) scale(0.82,1)" font-size="12.5" text-anchor="middle" fill="#000">c</text>
<line x1="216.5" y1="405.5" x2="220.5" y2="405.5" stroke="#333" stroke-width="1" />
<text x="213.7" y="409" font-size="12" fill="#4D4D4D" text-anchor="end" >0</text>
<line x1="216.5" y1="368.5" x2="220.5" y2="368.5" stroke="#333" stroke-width="1" />
<text x="213.7" y="372.2" font-size="12" fill="#4D4D4D" text-anchor="end" >4</text>
<line x1="216.5" y1="331.5" x2="220.5" y2="331.5" stroke="#333" stroke-width="1" />
<text x="213.7" y="335.4" font-size="12" fill="#4D4D4D" text-anchor="end" >8</text>
<line x1="216.5" y1="295.5" x2="220.5" y2="295.5" stroke="#333" stroke-width="1" />
<text x="213.7" y="298.6" font-size="12" fill="#4D4D4D" text-anchor="end" >12</text>
<rect x="384.8" y="251.2" width="125.2" height="22.4" fill="#D9D9D9" stroke="none" stroke-width="0" />
<text x="449.8" y="266.4" font-size="12" fill="#1a1a1a" text-anchor="middle" >White rot</text>
<rect x="384.5" y="273.5" width="126" height="138" fill="#fff" stroke="#333" stroke-width="1" />
<rect x="398.69" y="405.76" width="8" height="0.34" fill="#BEBEBE" stroke="none" stroke-width="0" />
<line x1="402.69" y1="406.1" x2="402.69" y2="405.3" stroke="#1a1a1a" stroke-width="1.4" />
<line x1="401.69" y1="405.3" x2="403.69" y2="405.3" stroke="#1a1a1a" stroke-width="1.1" />
<line x1="401.69" y1="406.1" x2="403.69" y2="406.1" stroke="#1a1a1a" stroke-width="1.1" />
<rect x="420.5" y="404.18" width="8" height="1.92" fill="#DC4E37" stroke="none" stroke-width="0" />
<line x1="424.5" y1="404.75" x2="424.5" y2="403.62" stroke="#1a1a1a" stroke-width="1.4" />
<line x1="423.5" y1="403.62" x2="425.5" y2="403.62" stroke="#1a1a1a" stroke-width="1.1" />
<line x1="423.5" y1="404.75" x2="425.5" y2="404.75" stroke="#1a1a1a" stroke-width="1.1" />
<rect x="428.5" y="405.65" width="8" height="0.45" fill="#4FB1CB" stroke="none" stroke-width="0" />
<line x1="432.5" y1="405.87" x2="432.5" y2="405.07" stroke="#1a1a1a" stroke-width="1.4" />
<line x1="431.5" y1="405.07" x2="433.5" y2="405.07" stroke="#1a1a1a" stroke-width="1.1" />
<line x1="431.5" y1="405.87" x2="433.5" y2="405.87" stroke="#1a1a1a" stroke-width="1.1" />
<rect x="436.5" y="404.07" width="8" height="2.03" fill="#10977D" stroke="none" stroke-width="0" />
<line x1="440.5" y1="405.2" x2="440.5" y2="402.94" stroke="#1a1a1a" stroke-width="1.4" />
<line x1="439.5" y1="402.94" x2="441.5" y2="402.94" stroke="#1a1a1a" stroke-width="1.1" />
<line x1="439.5" y1="405.2" x2="441.5" y2="405.2" stroke="#1a1a1a" stroke-width="1.1" />
<rect x="450.3" y="405.54" width="8" height="0.56" fill="#DC4E37" stroke="none" stroke-width="0" />
<line x1="454.3" y1="405.76" x2="454.3" y2="404.96" stroke="#1a1a1a" stroke-width="1.4" />
<line x1="453.3" y1="404.96" x2="455.3" y2="404.96" stroke="#1a1a1a" stroke-width="1.1" />
<line x1="453.3" y1="405.76" x2="455.3" y2="405.76" stroke="#1a1a1a" stroke-width="1.1" />
<rect x="458.3" y="405.54" width="8" height="0.56" fill="#4FB1CB" stroke="none" stroke-width="0" />
<line x1="462.3" y1="405.76" x2="462.3" y2="404.96" stroke="#1a1a1a" stroke-width="1.4" />
<line x1="461.3" y1="404.96" x2="463.3" y2="404.96" stroke="#1a1a1a" stroke-width="1.1" />
<line x1="461.3" y1="405.76" x2="463.3" y2="405.76" stroke="#1a1a1a" stroke-width="1.1" />
<rect x="466.3" y="405.87" width="8" height="0.23" fill="#10977D" stroke="none" stroke-width="0" />
<line x1="470.3" y1="405.99" x2="470.3" y2="405.19" stroke="#1a1a1a" stroke-width="1.4" />
<line x1="469.3" y1="405.19" x2="471.3" y2="405.19" stroke="#1a1a1a" stroke-width="1.1" />
<line x1="469.3" y1="405.99" x2="471.3" y2="405.99" stroke="#1a1a1a" stroke-width="1.1" />
<rect x="480.11" y="327.14" width="8" height="78.96" fill="#DC4E37" stroke="none" stroke-width="0" />
<line x1="484.11" y1="371.13" x2="484.11" y2="283.04" stroke="#1a1a1a" stroke-width="1.4" />
<line x1="483.11" y1="283.04" x2="485.11" y2="283.04" stroke="#1a1a1a" stroke-width="1.1" />
<line x1="483.11" y1="371.13" x2="485.11" y2="371.13" stroke="#1a1a1a" stroke-width="1.1" />
<rect x="488.11" y="404.97" width="8" height="1.13" fill="#4FB1CB" stroke="none" stroke-width="0" />
<line x1="492.11" y1="405.76" x2="492.11" y2="404.18" stroke="#1a1a1a" stroke-width="1.4" />
<line x1="491.11" y1="404.18" x2="493.11" y2="404.18" stroke="#1a1a1a" stroke-width="1.1" />
<line x1="491.11" y1="405.76" x2="493.11" y2="405.76" stroke="#1a1a1a" stroke-width="1.1" />
<rect x="496.11" y="405.87" width="8" height="0.23" fill="#10977D" stroke="none" stroke-width="0" />
<line x1="500.11" y1="405.99" x2="500.11" y2="405.19" stroke="#1a1a1a" stroke-width="1.4" />
<line x1="499.11" y1="405.19" x2="501.11" y2="405.19" stroke="#1a1a1a" stroke-width="1.1" />
<line x1="499.11" y1="405.99" x2="501.11" y2="405.99" stroke="#1a1a1a" stroke-width="1.1" />
<text transform="translate(402.69,401.22) scale(0.82,1)" font-size="12.5" text-anchor="middle" fill="#000">b</text>
<text transform="translate(424.5,399.42) scale(0.82,1)" font-size="12.5" text-anchor="middle" fill="#000">b</text>
<text transform="translate(432.5,401.22) scale(0.82,1)" font-size="12.5" text-anchor="middle" fill="#000">b</text>
<text transform="translate(440.5,398.74) scale(0.82,1)" font-size="12.5" text-anchor="middle" fill="#000">b</text>
<text transform="translate(454.3,401.11) scale(0.82,1)" font-size="12.5" text-anchor="middle" fill="#000">b</text>
<text transform="translate(462.3,401.11) scale(0.82,1)" font-size="12.5" text-anchor="middle" fill="#000">b</text>
<text transform="translate(470.3,401.56) scale(0.82,1)" font-size="12.5" text-anchor="middle" fill="#000">b</text>
<text transform="translate(484.11,282.1) scale(0.82,1)" font-size="12.5" text-anchor="middle" fill="#000">a</text>
<text transform="translate(492.11,399.98) scale(0.82,1)" font-size="12.5" text-anchor="middle" fill="#000">b</text>
<text transform="translate(500.11,401.56) scale(0.82,1)" font-size="12.5" text-anchor="middle" fill="#000">b</text>
<line x1="380.8" y1="406.5" x2="384.8" y2="406.5" stroke="#333" stroke-width="1" />
<text x="378" y="409.6" font-size="12" fill="#4D4D4D" text-anchor="end" >0.00</text>
<line x1="380.8" y1="377.5" x2="384.8" y2="377.5" stroke="#333" stroke-width="1" />
<text x="378" y="381.4" font-size="12" fill="#4D4D4D" text-anchor="end" >0.25</text>
<line x1="380.8" y1="349.5" x2="384.8" y2="349.5" stroke="#333" stroke-width="1" />
<text x="378" y="353.2" font-size="12" fill="#4D4D4D" text-anchor="end" >0.50</text>
<line x1="380.8" y1="321.5" x2="384.8" y2="321.5" stroke="#333" stroke-width="1" />
<text x="378" y="325" font-size="12" fill="#4D4D4D" text-anchor="end" >0.75</text>
<line x1="380.8" y1="293.5" x2="384.8" y2="293.5" stroke="#333" stroke-width="1" />
<text x="378" y="296.8" font-size="12" fill="#4D4D4D" text-anchor="end" >1.00</text>
<rect x="558.5" y="251.2" width="125.1" height="22.4" fill="#D9D9D9" stroke="none" stroke-width="0" />
<text x="619.65" y="266.4" font-size="12" fill="#1a1a1a" text-anchor="middle" >Nematode</text>
<rect x="558.5" y="273.5" width="125" height="138" fill="#fff" stroke="#333" stroke-width="1" />
<rect x="572.37" y="406.1" width="8" height="0" fill="#BEBEBE" stroke="none" stroke-width="0" />
<line x1="576.37" y1="406.1" x2="576.37" y2="405.3" stroke="#1a1a1a" stroke-width="1.4" />
<line x1="575.37" y1="405.3" x2="577.37" y2="405.3" stroke="#1a1a1a" stroke-width="1.1" />
<line x1="575.37" y1="406.1" x2="577.37" y2="406.1" stroke="#1a1a1a" stroke-width="1.1" />
<rect x="594.16" y="347.18" width="8" height="58.92" fill="#DC4E37" stroke="none" stroke-width="0" />
<line x1="598.16" y1="406.1" x2="598.16" y2="287.3" stroke="#1a1a1a" stroke-width="1.4" />
<line x1="597.16" y1="287.3" x2="599.16" y2="287.3" stroke="#1a1a1a" stroke-width="1.1" />
<line x1="597.16" y1="406.1" x2="599.16" y2="406.1" stroke="#1a1a1a" stroke-width="1.1" />
<rect x="602.16" y="374.02" width="8" height="32.08" fill="#4FB1CB" stroke="none" stroke-width="0" />
<line x1="606.16" y1="406.1" x2="606.16" y2="341.47" stroke="#1a1a1a" stroke-width="1.4" />
<line x1="605.16" y1="341.47" x2="607.16" y2="341.47" stroke="#1a1a1a" stroke-width="1.1" />
<line x1="605.16" y1="406.1" x2="607.16" y2="406.1" stroke="#1a1a1a" stroke-width="1.1" />
<rect x="610.16" y="406.1" width="8" height="0" fill="#10977D" stroke="none" stroke-width="0" />
<line x1="614.16" y1="406.1" x2="614.16" y2="405.3" stroke="#1a1a1a" stroke-width="1.4" />
<line x1="613.16" y1="405.3" x2="615.16" y2="405.3" stroke="#1a1a1a" stroke-width="1.1" />
<line x1="613.16" y1="406.1" x2="615.16" y2="406.1" stroke="#1a1a1a" stroke-width="1.1" />
<rect x="623.94" y="352.4" width="8" height="53.7" fill="#DC4E37" stroke="none" stroke-width="0" />
<line x1="627.94" y1="402.54" x2="627.94" y2="301.79" stroke="#1a1a1a" stroke-width="1.4" />
<line x1="626.94" y1="301.79" x2="628.94" y2="301.79" stroke="#1a1a1a" stroke-width="1.1" />
<line x1="626.94" y1="402.54" x2="628.94" y2="402.54" stroke="#1a1a1a" stroke-width="1.1" />
<rect x="631.94" y="403.72" width="8" height="2.38" fill="#4FB1CB" stroke="none" stroke-width="0" />
<line x1="635.94" y1="406.1" x2="635.94" y2="400.87" stroke="#1a1a1a" stroke-width="1.4" />
<line x1="634.94" y1="400.87" x2="636.94" y2="400.87" stroke="#1a1a1a" stroke-width="1.1" />
<line x1="634.94" y1="406.1" x2="636.94" y2="406.1" stroke="#1a1a1a" stroke-width="1.1" />
<rect x="639.94" y="392.79" width="8" height="13.31" fill="#10977D" stroke="none" stroke-width="0" />
<line x1="643.94" y1="406.1" x2="643.94" y2="379.01" stroke="#1a1a1a" stroke-width="1.4" />
<line x1="642.94" y1="379.01" x2="644.94" y2="379.01" stroke="#1a1a1a" stroke-width="1.1" />
<line x1="642.94" y1="406.1" x2="644.94" y2="406.1" stroke="#1a1a1a" stroke-width="1.1" />
<rect x="653.73" y="389.94" width="8" height="16.16" fill="#DC4E37" stroke="none" stroke-width="0" />
<line x1="657.73" y1="406.1" x2="657.73" y2="373.55" stroke="#1a1a1a" stroke-width="1.4" />
<line x1="656.73" y1="373.55" x2="658.73" y2="373.55" stroke="#1a1a1a" stroke-width="1.1" />
<line x1="656.73" y1="406.1" x2="658.73" y2="406.1" stroke="#1a1a1a" stroke-width="1.1" />
<rect x="661.73" y="389.94" width="8" height="16.16" fill="#4FB1CB" stroke="none" stroke-width="0" />
<line x1="665.73" y1="406.1" x2="665.73" y2="373.55" stroke="#1a1a1a" stroke-width="1.4" />
<line x1="664.73" y1="373.55" x2="666.73" y2="373.55" stroke="#1a1a1a" stroke-width="1.1" />
<line x1="664.73" y1="406.1" x2="666.73" y2="406.1" stroke="#1a1a1a" stroke-width="1.1" />
<rect x="669.73" y="357.87" width="8" height="48.23" fill="#10977D" stroke="none" stroke-width="0" />
<line x1="673.73" y1="382.1" x2="673.73" y2="333.16" stroke="#1a1a1a" stroke-width="1.4" />
<line x1="672.73" y1="333.16" x2="674.73" y2="333.16" stroke="#1a1a1a" stroke-width="1.1" />
<line x1="672.73" y1="382.1" x2="674.73" y2="382.1" stroke="#1a1a1a" stroke-width="1.1" />
<text transform="translate(576.37,401.19) scale(0.82,1)" font-size="12.5" text-anchor="middle" fill="#000">a</text>
<text transform="translate(598.16,283.1) scale(0.82,1)" font-size="12.5" text-anchor="middle" fill="#000">a</text>
<text transform="translate(606.16,337.27) scale(0.82,1)" font-size="12.5" text-anchor="middle" fill="#000">a</text>
<text transform="translate(614.16,401.19) scale(0.82,1)" font-size="12.5" text-anchor="middle" fill="#000">a</text>
<text transform="translate(627.94,297.59) scale(0.82,1)" font-size="12.5" text-anchor="middle" fill="#000">a</text>
<text transform="translate(635.94,396.67) scale(0.82,1)" font-size="12.5" text-anchor="middle" fill="#000">a</text>
<text transform="translate(643.94,374.81) scale(0.82,1)" font-size="12.5" text-anchor="middle" fill="#000">a</text>
<text transform="translate(657.73,369.35) scale(0.82,1)" font-size="12.5" text-anchor="middle" fill="#000">a</text>
<text transform="translate(665.73,369.35) scale(0.82,1)" font-size="12.5" text-anchor="middle" fill="#000">a</text>
<text transform="translate(673.73,328.96) scale(0.82,1)" font-size="12.5" text-anchor="middle" fill="#000">a</text>
<line x1="554.5" y1="406.5" x2="558.5" y2="406.5" stroke="#333" stroke-width="1" />
<text x="551.7" y="409.6" font-size="12" fill="#4D4D4D" text-anchor="end" >0.00</text>
<line x1="554.5" y1="382.5" x2="558.5" y2="382.5" stroke="#333" stroke-width="1" />
<text x="551.7" y="385.84" font-size="12" fill="#4D4D4D" text-anchor="end" >0.01</text>
<line x1="554.5" y1="358.5" x2="558.5" y2="358.5" stroke="#333" stroke-width="1" />
<text x="551.7" y="362.08" font-size="12" fill="#4D4D4D" text-anchor="end" >0.02</text>
<line x1="554.5" y1="334.5" x2="558.5" y2="334.5" stroke="#333" stroke-width="1" />
<text x="551.7" y="338.32" font-size="12" fill="#4D4D4D" text-anchor="end" >0.03</text>
<line x1="554.5" y1="311.5" x2="558.5" y2="311.5" stroke="#333" stroke-width="1" />
<text x="551.7" y="314.56" font-size="12" fill="#4D4D4D" text-anchor="end" >0.04</text>
<line x1="554.5" y1="287.5" x2="558.5" y2="287.5" stroke="#333" stroke-width="1" />
<text x="551.7" y="290.8" font-size="12" fill="#4D4D4D" text-anchor="end" >0.05</text>
<rect x="51.6" y="417.6" width="124.8" height="22.7" fill="#D9D9D9" stroke="none" stroke-width="0" />
<text x="115" y="432.7" font-size="12" fill="#1a1a1a" text-anchor="middle" >Plant saprotroph</text>
<rect x="51.5" y="440.5" width="125" height="137" fill="#fff" stroke="#333" stroke-width="1" />
<rect x="65.43" y="533.99" width="8" height="38.51" fill="#BEBEBE" stroke="none" stroke-width="0" />
<line x1="69.43" y1="543.78" x2="69.43" y2="523.94" stroke="#1a1a1a" stroke-width="1.4" />
<line x1="68.43" y1="523.94" x2="70.43" y2="523.94" stroke="#1a1a1a" stroke-width="1.1" />
<line x1="68.43" y1="543.78" x2="70.43" y2="543.78" stroke="#1a1a1a" stroke-width="1.1" />
<rect x="87.14" y="570.23" width="8" height="2.27" fill="#DC4E37" stroke="none" stroke-width="0" />
<line x1="91.14" y1="571.28" x2="91.14" y2="569.01" stroke="#1a1a1a" stroke-width="1.4" />
<line x1="90.14" y1="569.01" x2="92.14" y2="569.01" stroke="#1a1a1a" stroke-width="1.1" />
<line x1="90.14" y1="571.28" x2="92.14" y2="571.28" stroke="#1a1a1a" stroke-width="1.1" />
<rect x="95.14" y="469.19" width="8" height="103.31" fill="#4FB1CB" stroke="none" stroke-width="0" />
<line x1="99.14" y1="484.9" x2="99.14" y2="452.95" stroke="#1a1a1a" stroke-width="1.4" />
<line x1="98.14" y1="452.95" x2="100.14" y2="452.95" stroke="#1a1a1a" stroke-width="1.1" />
<line x1="98.14" y1="484.9" x2="100.14" y2="484.9" stroke="#1a1a1a" stroke-width="1.1" />
<rect x="103.14" y="534.41" width="8" height="38.09" fill="#10977D" stroke="none" stroke-width="0" />
<line x1="107.14" y1="539.7" x2="107.14" y2="528.06" stroke="#1a1a1a" stroke-width="1.4" />
<line x1="106.14" y1="528.06" x2="108.14" y2="528.06" stroke="#1a1a1a" stroke-width="1.1" />
<line x1="106.14" y1="539.7" x2="108.14" y2="539.7" stroke="#1a1a1a" stroke-width="1.1" />
<rect x="116.86" y="570.6" width="8" height="1.9" fill="#DC4E37" stroke="none" stroke-width="0" />
<line x1="120.86" y1="571.44" x2="120.86" y2="569.59" stroke="#1a1a1a" stroke-width="1.4" />
<line x1="119.86" y1="569.59" x2="121.86" y2="569.59" stroke="#1a1a1a" stroke-width="1.1" />
<line x1="119.86" y1="571.44" x2="121.86" y2="571.44" stroke="#1a1a1a" stroke-width="1.1" />
<rect x="124.86" y="506.59" width="8" height="65.91" fill="#4FB1CB" stroke="none" stroke-width="0" />
<line x1="128.86" y1="515.37" x2="128.86" y2="498.18" stroke="#1a1a1a" stroke-width="1.4" />
<line x1="127.86" y1="498.18" x2="129.86" y2="498.18" stroke="#1a1a1a" stroke-width="1.1" />
<line x1="127.86" y1="515.37" x2="129.86" y2="515.37" stroke="#1a1a1a" stroke-width="1.1" />
<rect x="132.86" y="537.85" width="8" height="34.65" fill="#10977D" stroke="none" stroke-width="0" />
<line x1="136.86" y1="542.61" x2="136.86" y2="532.83" stroke="#1a1a1a" stroke-width="1.4" />
<line x1="135.86" y1="532.83" x2="137.86" y2="532.83" stroke="#1a1a1a" stroke-width="1.1" />
<line x1="135.86" y1="542.61" x2="137.86" y2="542.61" stroke="#1a1a1a" stroke-width="1.1" />
<rect x="146.57" y="567.42" width="8" height="5.08" fill="#DC4E37" stroke="none" stroke-width="0" />
<line x1="150.57" y1="570.23" x2="150.57" y2="564.99" stroke="#1a1a1a" stroke-width="1.4" />
<line x1="149.57" y1="564.99" x2="151.57" y2="564.99" stroke="#1a1a1a" stroke-width="1.1" />
<line x1="149.57" y1="570.23" x2="151.57" y2="570.23" stroke="#1a1a1a" stroke-width="1.1" />
<rect x="154.57" y="494.21" width="8" height="78.29" fill="#4FB1CB" stroke="none" stroke-width="0" />
<line x1="158.57" y1="503.62" x2="158.57" y2="484.9" stroke="#1a1a1a" stroke-width="1.4" />
<line x1="157.57" y1="484.9" x2="159.57" y2="484.9" stroke="#1a1a1a" stroke-width="1.1" />
<line x1="157.57" y1="503.62" x2="159.57" y2="503.62" stroke="#1a1a1a" stroke-width="1.1" />
<rect x="162.57" y="546.05" width="8" height="26.45" fill="#10977D" stroke="none" stroke-width="0" />
<line x1="166.57" y1="550.28" x2="166.57" y2="542.61" stroke="#1a1a1a" stroke-width="1.4" />
<line x1="165.57" y1="542.61" x2="167.57" y2="542.61" stroke="#1a1a1a" stroke-width="1.1" />
<line x1="165.57" y1="550.28" x2="167.57" y2="550.28" stroke="#1a1a1a" stroke-width="1.1" />
<text transform="translate(69.43,519.74) scale(0.82,1)" font-size="12.5" text-anchor="middle" fill="#000">bcd</text>
<text transform="translate(91.14,564.81) scale(0.82,1)" font-size="12.5" text-anchor="middle" fill="#000">d</text>
<text transform="translate(99.14,448.8) scale(0.82,1)" font-size="12.5" text-anchor="middle" fill="#000">a</text>
<text transform="translate(107.14,523.86) scale(0.82,1)" font-size="12.5" text-anchor="middle" fill="#000">bcd</text>
<text transform="translate(120.86,565.39) scale(0.82,1)" font-size="12.5" text-anchor="middle" fill="#000">d</text>
<text transform="translate(128.86,493.98) scale(0.82,1)" font-size="12.5" text-anchor="middle" fill="#000">abc</text>
<text transform="translate(136.86,528.62) scale(0.82,1)" font-size="12.5" text-anchor="middle" fill="#000">bcd</text>
<text transform="translate(150.57,560.79) scale(0.82,1)" font-size="12.5" text-anchor="middle" fill="#000">d</text>
<text transform="translate(158.57,480.7) scale(0.82,1)" font-size="12.5" text-anchor="middle" fill="#000">ab</text>
<text transform="translate(166.57,538.41) scale(0.82,1)" font-size="12.5" text-anchor="middle" fill="#000">cd</text>
<line x1="47.6" y1="572.5" x2="51.6" y2="572.5" stroke="#333" stroke-width="1" />
<text x="44.8" y="576" font-size="12" fill="#4D4D4D" text-anchor="end" >0</text>
<line x1="47.6" y1="546.5" x2="51.6" y2="546.5" stroke="#333" stroke-width="1" />
<text x="44.8" y="549.55" font-size="12" fill="#4D4D4D" text-anchor="end" >5</text>
<line x1="47.6" y1="519.5" x2="51.6" y2="519.5" stroke="#333" stroke-width="1" />
<text x="44.8" y="523.1" font-size="12" fill="#4D4D4D" text-anchor="end" >10</text>
<line x1="47.6" y1="493.5" x2="51.6" y2="493.5" stroke="#333" stroke-width="1" />
<text x="44.8" y="496.65" font-size="12" fill="#4D4D4D" text-anchor="end" >15</text>
<line x1="47.6" y1="466.5" x2="51.6" y2="466.5" stroke="#333" stroke-width="1" />
<text x="44.8" y="470.2" font-size="12" fill="#4D4D4D" text-anchor="end" >20</text>
<rect x="220.5" y="417.6" width="124.9" height="22.7" fill="#D9D9D9" stroke="none" stroke-width="0" />
<text x="285.85" y="432.7" font-size="12" fill="#1a1a1a" text-anchor="middle" >Soil saprotroph</text>
<rect x="220.5" y="440.5" width="125" height="137" fill="#fff" stroke="#333" stroke-width="1" />
<rect x="234.34" y="472.01" width="8" height="99.79" fill="#BEBEBE" stroke="none" stroke-width="0" />
<line x1="238.34" y1="492.44" x2="238.34" y2="452.17" stroke="#1a1a1a" stroke-width="1.4" />
<line x1="237.34" y1="452.17" x2="239.34" y2="452.17" stroke="#1a1a1a" stroke-width="1.1" />
<line x1="237.34" y1="492.44" x2="239.34" y2="492.44" stroke="#1a1a1a" stroke-width="1.1" />
<rect x="256.08" y="497.31" width="8" height="74.49" fill="#DC4E37" stroke="none" stroke-width="0" />
<line x1="260.08" y1="501.35" x2="260.08" y2="493.51" stroke="#1a1a1a" stroke-width="1.4" />
<line x1="259.08" y1="493.51" x2="261.08" y2="493.51" stroke="#1a1a1a" stroke-width="1.1" />
<line x1="259.08" y1="501.35" x2="261.08" y2="501.35" stroke="#1a1a1a" stroke-width="1.1" />
<rect x="264.08" y="541.39" width="8" height="30.41" fill="#4FB1CB" stroke="none" stroke-width="0" />
<line x1="268.08" y1="549.58" x2="268.08" y2="532.36" stroke="#1a1a1a" stroke-width="1.4" />
<line x1="267.08" y1="532.36" x2="269.08" y2="532.36" stroke="#1a1a1a" stroke-width="1.1" />
<line x1="267.08" y1="549.58" x2="269.08" y2="549.58" stroke="#1a1a1a" stroke-width="1.1" />
<rect x="272.08" y="476.05" width="8" height="95.75" fill="#10977D" stroke="none" stroke-width="0" />
<line x1="276.08" y1="480.21" x2="276.08" y2="470.94" stroke="#1a1a1a" stroke-width="1.4" />
<line x1="275.08" y1="470.94" x2="277.08" y2="470.94" stroke="#1a1a1a" stroke-width="1.1" />
<line x1="275.08" y1="480.21" x2="277.08" y2="480.21" stroke="#1a1a1a" stroke-width="1.1" />
<rect x="285.82" y="477.24" width="8" height="94.56" fill="#DC4E37" stroke="none" stroke-width="0" />
<line x1="289.82" y1="482.7" x2="289.82" y2="471.3" stroke="#1a1a1a" stroke-width="1.4" />
<line x1="288.82" y1="471.3" x2="290.82" y2="471.3" stroke="#1a1a1a" stroke-width="1.1" />
<line x1="288.82" y1="482.7" x2="290.82" y2="482.7" stroke="#1a1a1a" stroke-width="1.1" />
<rect x="293.82" y="542.81" width="8" height="28.99" fill="#4FB1CB" stroke="none" stroke-width="0" />
<line x1="297.82" y1="544.83" x2="297.82" y2="540.56" stroke="#1a1a1a" stroke-width="1.4" />
<line x1="296.82" y1="540.56" x2="298.82" y2="540.56" stroke="#1a1a1a" stroke-width="1.1" />
<line x1="296.82" y1="544.83" x2="298.82" y2="544.83" stroke="#1a1a1a" stroke-width="1.1" />
<rect x="301.82" y="471.3" width="8" height="100.5" fill="#10977D" stroke="none" stroke-width="0" />
<line x1="305.82" y1="479.14" x2="305.82" y2="462.74" stroke="#1a1a1a" stroke-width="1.4" />
<line x1="304.82" y1="462.74" x2="306.82" y2="462.74" stroke="#1a1a1a" stroke-width="1.1" />
<line x1="304.82" y1="479.14" x2="306.82" y2="479.14" stroke="#1a1a1a" stroke-width="1.1" />
<rect x="315.56" y="488.4" width="8" height="83.4" fill="#DC4E37" stroke="none" stroke-width="0" />
<line x1="319.56" y1="491.97" x2="319.56" y2="484.96" stroke="#1a1a1a" stroke-width="1.4" />
<line x1="318.56" y1="484.96" x2="320.56" y2="484.96" stroke="#1a1a1a" stroke-width="1.1" />
<line x1="318.56" y1="491.97" x2="320.56" y2="491.97" stroke="#1a1a1a" stroke-width="1.1" />
<rect x="323.56" y="542.1" width="8" height="29.7" fill="#4FB1CB" stroke="none" stroke-width="0" />
<line x1="327.56" y1="546.14" x2="327.56" y2="536.99" stroke="#1a1a1a" stroke-width="1.4" />
<line x1="326.56" y1="536.99" x2="328.56" y2="536.99" stroke="#1a1a1a" stroke-width="1.1" />
<line x1="326.56" y1="546.14" x2="328.56" y2="546.14" stroke="#1a1a1a" stroke-width="1.1" />
<rect x="331.56" y="503.61" width="8" height="68.19" fill="#10977D" stroke="none" stroke-width="0" />
<line x1="335.56" y1="511.33" x2="335.56" y2="495.89" stroke="#1a1a1a" stroke-width="1.4" />
<line x1="334.56" y1="495.89" x2="336.56" y2="495.89" stroke="#1a1a1a" stroke-width="1.1" />
<line x1="334.56" y1="511.33" x2="336.56" y2="511.33" stroke="#1a1a1a" stroke-width="1.1" />
<text transform="translate(238.34,448.8) scale(0.82,1)" font-size="12.5" text-anchor="middle" fill="#000">a</text>
<text transform="translate(260.08,489.31) scale(0.82,1)" font-size="12.5" text-anchor="middle" fill="#000">ab</text>
<text transform="translate(268.08,528.16) scale(0.82,1)" font-size="12.5" text-anchor="middle" fill="#000">b</text>
<text transform="translate(276.08,466.74) scale(0.82,1)" font-size="12.5" text-anchor="middle" fill="#000">a</text>
<text transform="translate(289.82,467.1) scale(0.82,1)" font-size="12.5" text-anchor="middle" fill="#000">a</text>
<text transform="translate(297.82,536.36) scale(0.82,1)" font-size="12.5" text-anchor="middle" fill="#000">b</text>
<text transform="translate(305.82,458.54) scale(0.82,1)" font-size="12.5" text-anchor="middle" fill="#000">a</text>
<text transform="translate(319.56,480.76) scale(0.82,1)" font-size="12.5" text-anchor="middle" fill="#000">ab</text>
<text transform="translate(327.56,532.79) scale(0.82,1)" font-size="12.5" text-anchor="middle" fill="#000">b</text>
<text transform="translate(335.56,491.69) scale(0.82,1)" font-size="12.5" text-anchor="middle" fill="#000">ab</text>
<line x1="216.5" y1="571.5" x2="220.5" y2="571.5" stroke="#333" stroke-width="1" />
<text x="213.7" y="575.3" font-size="12" fill="#4D4D4D" text-anchor="end" >0.0</text>
<line x1="216.5" y1="542.5" x2="220.5" y2="542.5" stroke="#333" stroke-width="1" />
<text x="213.7" y="545.6" font-size="12" fill="#4D4D4D" text-anchor="end" >2.5</text>
<line x1="216.5" y1="512.5" x2="220.5" y2="512.5" stroke="#333" stroke-width="1" />
<text x="213.7" y="515.9" font-size="12" fill="#4D4D4D" text-anchor="end" >5.0</text>
<line x1="216.5" y1="482.5" x2="220.5" y2="482.5" stroke="#333" stroke-width="1" />
<text x="213.7" y="486.2" font-size="12" fill="#4D4D4D" text-anchor="end" >7.5</text>
<line x1="216.5" y1="452.5" x2="220.5" y2="452.5" stroke="#333" stroke-width="1" />
<text x="213.7" y="456.5" font-size="12" fill="#4D4D4D" text-anchor="end" >10.0</text>
<rect x="384.8" y="417.6" width="125.2" height="22.7" fill="#D9D9D9" stroke="none" stroke-width="0" />
<text x="449.7" y="432.7" font-size="12" fill="#1a1a1a" text-anchor="middle" >Litter saprotroph</text>
<rect x="384.5" y="440.5" width="126" height="137" fill="#fff" stroke="#333" stroke-width="1" />
<rect x="398.69" y="479.1" width="8" height="93.5" fill="#BEBEBE" stroke="none" stroke-width="0" />
<line x1="402.69" y1="499.67" x2="402.69" y2="458.72" stroke="#1a1a1a" stroke-width="1.4" />
<line x1="401.69" y1="458.72" x2="403.69" y2="458.72" stroke="#1a1a1a" stroke-width="1.1" />
<line x1="401.69" y1="499.67" x2="403.69" y2="499.67" stroke="#1a1a1a" stroke-width="1.1" />
<rect x="420.5" y="494.06" width="8" height="78.54" fill="#DC4E37" stroke="none" stroke-width="0" />
<line x1="424.5" y1="505.65" x2="424.5" y2="482.28" stroke="#1a1a1a" stroke-width="1.4" />
<line x1="423.5" y1="482.28" x2="425.5" y2="482.28" stroke="#1a1a1a" stroke-width="1.1" />
<line x1="423.5" y1="505.65" x2="425.5" y2="505.65" stroke="#1a1a1a" stroke-width="1.1" />
<rect x="428.5" y="546.05" width="8" height="26.55" fill="#4FB1CB" stroke="none" stroke-width="0" />
<line x1="432.5" y1="555.02" x2="432.5" y2="536.13" stroke="#1a1a1a" stroke-width="1.4" />
<line x1="431.5" y1="536.13" x2="433.5" y2="536.13" stroke="#1a1a1a" stroke-width="1.1" />
<line x1="431.5" y1="555.02" x2="433.5" y2="555.02" stroke="#1a1a1a" stroke-width="1.1" />
<rect x="436.5" y="483.21" width="8" height="89.39" fill="#10977D" stroke="none" stroke-width="0" />
<line x1="440.5" y1="490.51" x2="440.5" y2="475.55" stroke="#1a1a1a" stroke-width="1.4" />
<line x1="439.5" y1="475.55" x2="441.5" y2="475.55" stroke="#1a1a1a" stroke-width="1.1" />
<line x1="439.5" y1="490.51" x2="441.5" y2="490.51" stroke="#1a1a1a" stroke-width="1.1" />
<rect x="450.3" y="471.25" width="8" height="101.35" fill="#DC4E37" stroke="none" stroke-width="0" />
<line x1="454.3" y1="487.52" x2="454.3" y2="453.48" stroke="#1a1a1a" stroke-width="1.4" />
<line x1="453.3" y1="453.48" x2="455.3" y2="453.48" stroke="#1a1a1a" stroke-width="1.1" />
<line x1="453.3" y1="487.52" x2="455.3" y2="487.52" stroke="#1a1a1a" stroke-width="1.1" />
<rect x="458.3" y="549.04" width="8" height="23.56" fill="#4FB1CB" stroke="none" stroke-width="0" />
<line x1="462.3" y1="554.27" x2="462.3" y2="543.62" stroke="#1a1a1a" stroke-width="1.4" />
<line x1="461.3" y1="543.62" x2="463.3" y2="543.62" stroke="#1a1a1a" stroke-width="1.1" />
<line x1="461.3" y1="554.27" x2="463.3" y2="554.27" stroke="#1a1a1a" stroke-width="1.1" />
<rect x="466.3" y="471.43" width="8" height="101.17" fill="#10977D" stroke="none" stroke-width="0" />
<line x1="470.3" y1="477.42" x2="470.3" y2="465.45" stroke="#1a1a1a" stroke-width="1.4" />
<line x1="469.3" y1="465.45" x2="471.3" y2="465.45" stroke="#1a1a1a" stroke-width="1.1" />
<line x1="469.3" y1="477.42" x2="471.3" y2="477.42" stroke="#1a1a1a" stroke-width="1.1" />
<rect x="480.11" y="499.67" width="8" height="72.93" fill="#DC4E37" stroke="none" stroke-width="0" />
<line x1="484.11" y1="509.96" x2="484.11" y2="489.38" stroke="#1a1a1a" stroke-width="1.4" />
<line x1="483.11" y1="489.38" x2="485.11" y2="489.38" stroke="#1a1a1a" stroke-width="1.1" />
<line x1="483.11" y1="509.96" x2="485.11" y2="509.96" stroke="#1a1a1a" stroke-width="1.1" />
<rect x="488.11" y="551.47" width="8" height="21.13" fill="#4FB1CB" stroke="none" stroke-width="0" />
<line x1="492.11" y1="557.45" x2="492.11" y2="545.49" stroke="#1a1a1a" stroke-width="1.4" />
<line x1="491.11" y1="545.49" x2="493.11" y2="545.49" stroke="#1a1a1a" stroke-width="1.1" />
<line x1="491.11" y1="557.45" x2="493.11" y2="557.45" stroke="#1a1a1a" stroke-width="1.1" />
<rect x="496.11" y="516.5" width="8" height="56.1" fill="#10977D" stroke="none" stroke-width="0" />
<line x1="500.11" y1="524.17" x2="500.11" y2="508.46" stroke="#1a1a1a" stroke-width="1.4" />
<line x1="499.11" y1="508.46" x2="501.11" y2="508.46" stroke="#1a1a1a" stroke-width="1.1" />
<line x1="499.11" y1="524.17" x2="501.11" y2="524.17" stroke="#1a1a1a" stroke-width="1.1" />
<text transform="translate(402.69,454.52) scale(0.82,1)" font-size="12.5" text-anchor="middle" fill="#000">a</text>
<text transform="translate(424.5,478.08) scale(0.82,1)" font-size="12.5" text-anchor="middle" fill="#000">ab</text>
<text transform="translate(432.5,531.93) scale(0.82,1)" font-size="12.5" text-anchor="middle" fill="#000">bc</text>
<text transform="translate(440.5,471.35) scale(0.82,1)" font-size="12.5" text-anchor="middle" fill="#000">a</text>
<text transform="translate(454.3,449.28) scale(0.82,1)" font-size="12.5" text-anchor="middle" fill="#000">a</text>
<text transform="translate(462.3,539.41) scale(0.82,1)" font-size="12.5" text-anchor="middle" fill="#000">bc</text>
<text transform="translate(470.3,461.25) scale(0.82,1)" font-size="12.5" text-anchor="middle" fill="#000">a</text>
<text transform="translate(484.11,485.19) scale(0.82,1)" font-size="12.5" text-anchor="middle" fill="#000">abc</text>
<text transform="translate(492.11,541.28) scale(0.82,1)" font-size="12.5" text-anchor="middle" fill="#000">c</text>
<text transform="translate(500.11,504.26) scale(0.82,1)" font-size="12.5" text-anchor="middle" fill="#000">abc</text>
<line x1="380.8" y1="572.5" x2="384.8" y2="572.5" stroke="#333" stroke-width="1" />
<text x="378" y="576.1" font-size="12" fill="#4D4D4D" text-anchor="end" >0</text>
<line x1="380.8" y1="535.5" x2="384.8" y2="535.5" stroke="#333" stroke-width="1" />
<text x="378" y="538.7" font-size="12" fill="#4D4D4D" text-anchor="end" >2</text>
<line x1="380.8" y1="497.5" x2="384.8" y2="497.5" stroke="#333" stroke-width="1" />
<text x="378" y="501.3" font-size="12" fill="#4D4D4D" text-anchor="end" >4</text>
<line x1="380.8" y1="460.5" x2="384.8" y2="460.5" stroke="#333" stroke-width="1" />
<text x="378" y="463.9" font-size="12" fill="#4D4D4D" text-anchor="end" >6</text>
<rect x="558.5" y="417.6" width="125.1" height="22.7" fill="#D9D9D9" stroke="none" stroke-width="0" />
<text x="625.65" y="432.7" font-size="12" fill="#1a1a1a" text-anchor="middle" >Leaf saprotroph</text>
<rect x="558.5" y="440.5" width="125" height="137" fill="#fff" stroke="#333" stroke-width="1" />
<rect x="572.37" y="568.76" width="8" height="3.14" fill="#BEBEBE" stroke="none" stroke-width="0" />
<line x1="576.37" y1="569.94" x2="576.37" y2="565.88" stroke="#1a1a1a" stroke-width="1.4" />
<line x1="575.37" y1="565.88" x2="577.37" y2="565.88" stroke="#1a1a1a" stroke-width="1.1" />
<line x1="575.37" y1="569.94" x2="577.37" y2="569.94" stroke="#1a1a1a" stroke-width="1.1" />
<rect x="594.16" y="495.51" width="8" height="76.39" fill="#DC4E37" stroke="none" stroke-width="0" />
<line x1="598.16" y1="516.44" x2="598.16" y2="474.32" stroke="#1a1a1a" stroke-width="1.4" />
<line x1="597.16" y1="474.32" x2="599.16" y2="474.32" stroke="#1a1a1a" stroke-width="1.1" />
<line x1="597.16" y1="516.44" x2="599.16" y2="516.44" stroke="#1a1a1a" stroke-width="1.1" />
<rect x="602.16" y="561.83" width="8" height="10.07" fill="#4FB1CB" stroke="none" stroke-width="0" />
<line x1="606.16" y1="565.88" x2="606.16" y2="556.86" stroke="#1a1a1a" stroke-width="1.4" />
<line x1="605.16" y1="556.86" x2="607.16" y2="556.86" stroke="#1a1a1a" stroke-width="1.1" />
<line x1="605.16" y1="565.88" x2="607.16" y2="565.88" stroke="#1a1a1a" stroke-width="1.1" />
<rect x="610.16" y="521.28" width="8" height="50.62" fill="#10977D" stroke="none" stroke-width="0" />
<line x1="614.16" y1="538.55" x2="614.16" y2="503.23" stroke="#1a1a1a" stroke-width="1.4" />
<line x1="613.16" y1="503.23" x2="615.16" y2="503.23" stroke="#1a1a1a" stroke-width="1.1" />
<line x1="613.16" y1="538.55" x2="615.16" y2="538.55" stroke="#1a1a1a" stroke-width="1.1" />
<rect x="623.94" y="497.87" width="8" height="74.03" fill="#DC4E37" stroke="none" stroke-width="0" />
<line x1="627.94" y1="519.45" x2="627.94" y2="476.02" stroke="#1a1a1a" stroke-width="1.4" />
<line x1="626.94" y1="476.02" x2="628.94" y2="476.02" stroke="#1a1a1a" stroke-width="1.1" />
<line x1="626.94" y1="519.45" x2="628.94" y2="519.45" stroke="#1a1a1a" stroke-width="1.1" />
<rect x="631.94" y="567.06" width="8" height="4.84" fill="#4FB1CB" stroke="none" stroke-width="0" />
<line x1="635.94" y1="569.02" x2="635.94" y2="565.88" stroke="#1a1a1a" stroke-width="1.4" />
<line x1="634.94" y1="565.88" x2="636.94" y2="565.88" stroke="#1a1a1a" stroke-width="1.1" />
<line x1="634.94" y1="569.02" x2="636.94" y2="569.02" stroke="#1a1a1a" stroke-width="1.1" />
<rect x="639.94" y="564.18" width="8" height="7.72" fill="#10977D" stroke="none" stroke-width="0" />
<line x1="643.94" y1="566.28" x2="643.94" y2="561.83" stroke="#1a1a1a" stroke-width="1.4" />
<line x1="642.94" y1="561.83" x2="644.94" y2="561.83" stroke="#1a1a1a" stroke-width="1.1" />
<line x1="642.94" y1="566.28" x2="644.94" y2="566.28" stroke="#1a1a1a" stroke-width="1.1" />
<rect x="653.73" y="518.93" width="8" height="52.97" fill="#DC4E37" stroke="none" stroke-width="0" />
<line x1="657.73" y1="536.85" x2="657.73" y2="500.35" stroke="#1a1a1a" stroke-width="1.4" />
<line x1="656.73" y1="500.35" x2="658.73" y2="500.35" stroke="#1a1a1a" stroke-width="1.1" />
<line x1="656.73" y1="536.85" x2="658.73" y2="536.85" stroke="#1a1a1a" stroke-width="1.1" />
<rect x="661.73" y="571.9" width="8" height="0" fill="#4FB1CB" stroke="none" stroke-width="0" />
<line x1="665.73" y1="571.9" x2="665.73" y2="571.1" stroke="#1a1a1a" stroke-width="1.4" />
<line x1="664.73" y1="571.1" x2="666.73" y2="571.1" stroke="#1a1a1a" stroke-width="1.1" />
<line x1="664.73" y1="571.9" x2="666.73" y2="571.9" stroke="#1a1a1a" stroke-width="1.1" />
<rect x="669.73" y="507.94" width="8" height="63.96" fill="#10977D" stroke="none" stroke-width="0" />
<line x1="673.73" y1="564.18" x2="673.73" y2="451.56" stroke="#1a1a1a" stroke-width="1.4" />
<line x1="672.73" y1="451.56" x2="674.73" y2="451.56" stroke="#1a1a1a" stroke-width="1.1" />
<line x1="672.73" y1="564.18" x2="674.73" y2="564.18" stroke="#1a1a1a" stroke-width="1.1" />
<text transform="translate(576.37,561.68) scale(0.82,1)" font-size="12.5" text-anchor="middle" fill="#000">a</text>
<text transform="translate(598.16,470.12) scale(0.82,1)" font-size="12.5" text-anchor="middle" fill="#000">a</text>
<text transform="translate(606.16,552.66) scale(0.82,1)" font-size="12.5" text-anchor="middle" fill="#000">a</text>
<text transform="translate(614.16,499.03) scale(0.82,1)" font-size="12.5" text-anchor="middle" fill="#000">a</text>
<text transform="translate(627.94,471.82) scale(0.82,1)" font-size="12.5" text-anchor="middle" fill="#000">a</text>
<text transform="translate(635.94,561.68) scale(0.82,1)" font-size="12.5" text-anchor="middle" fill="#000">a</text>
<text transform="translate(643.94,557.63) scale(0.82,1)" font-size="12.5" text-anchor="middle" fill="#000">a</text>
<text transform="translate(657.73,496.15) scale(0.82,1)" font-size="12.5" text-anchor="middle" fill="#000">a</text>
<text transform="translate(665.73,567.18) scale(0.82,1)" font-size="12.5" text-anchor="middle" fill="#000">a</text>
<text transform="translate(673.73,448.8) scale(0.82,1)" font-size="12.5" text-anchor="middle" fill="#000">a</text>
<line x1="554.5" y1="571.5" x2="558.5" y2="571.5" stroke="#333" stroke-width="1" />
<text x="551.7" y="575.4" font-size="12" fill="#4D4D4D" text-anchor="end" >0.000</text>
<line x1="554.5" y1="539.5" x2="558.5" y2="539.5" stroke="#333" stroke-width="1" />
<text x="551.7" y="542.7" font-size="12" fill="#4D4D4D" text-anchor="end" >0.025</text>
<line x1="554.5" y1="506.5" x2="558.5" y2="506.5" stroke="#333" stroke-width="1" />
<text x="551.7" y="510" font-size="12" fill="#4D4D4D" text-anchor="end" >0.050</text>
<line x1="554.5" y1="473.5" x2="558.5" y2="473.5" stroke="#333" stroke-width="1" />
<text x="551.7" y="477.3" font-size="12" fill="#4D4D4D" text-anchor="end" >0.075</text>
<line x1="554.5" y1="441.5" x2="558.5" y2="441.5" stroke="#333" stroke-width="1" />
<text x="551.7" y="444.6" font-size="12" fill="#4D4D4D" text-anchor="end" >0.100</text>
<rect x="50.5" y="584" width="124.9" height="22.8" fill="#D9D9D9" stroke="none" stroke-width="0" />
<text x="114.75" y="599" font-size="12" fill="#1a1a1a" text-anchor="middle" >Ectomycorrhizal</text>
<rect x="50.5" y="606.5" width="125" height="138" fill="#fff" stroke="#333" stroke-width="1" />
<rect x="64.34" y="732" width="8" height="7" fill="#BEBEBE" stroke="none" stroke-width="0" />
<line x1="68.34" y1="734.47" x2="68.34" y2="730.16" stroke="#1a1a1a" stroke-width="1.4" />
<line x1="67.34" y1="730.16" x2="69.34" y2="730.16" stroke="#1a1a1a" stroke-width="1.1" />
<line x1="67.34" y1="734.47" x2="69.34" y2="734.47" stroke="#1a1a1a" stroke-width="1.1" />
<rect x="86.08" y="656.68" width="8" height="82.32" fill="#DC4E37" stroke="none" stroke-width="0" />
<line x1="90.08" y1="694.61" x2="90.08" y2="618.54" stroke="#1a1a1a" stroke-width="1.4" />
<line x1="89.08" y1="618.54" x2="91.08" y2="618.54" stroke="#1a1a1a" stroke-width="1.1" />
<line x1="89.08" y1="694.61" x2="91.08" y2="694.61" stroke="#1a1a1a" stroke-width="1.1" />
<rect x="94.08" y="734.04" width="8" height="4.96" fill="#4FB1CB" stroke="none" stroke-width="0" />
<line x1="98.08" y1="737.6" x2="98.08" y2="730.16" stroke="#1a1a1a" stroke-width="1.4" />
<line x1="97.08" y1="730.16" x2="99.08" y2="730.16" stroke="#1a1a1a" stroke-width="1.1" />
<line x1="97.08" y1="737.6" x2="99.08" y2="737.6" stroke="#1a1a1a" stroke-width="1.1" />
<rect x="102.08" y="717.99" width="8" height="21.01" fill="#10977D" stroke="none" stroke-width="0" />
<line x1="106.08" y1="718.96" x2="106.08" y2="717.88" stroke="#1a1a1a" stroke-width="1.4" />
<line x1="105.08" y1="717.88" x2="107.08" y2="717.88" stroke="#1a1a1a" stroke-width="1.1" />
<line x1="105.08" y1="718.96" x2="107.08" y2="718.96" stroke="#1a1a1a" stroke-width="1.1" />
<rect x="115.82" y="679.95" width="8" height="59.05" fill="#DC4E37" stroke="none" stroke-width="0" />
<line x1="119.82" y1="708.61" x2="119.82" y2="651.51" stroke="#1a1a1a" stroke-width="1.4" />
<line x1="118.82" y1="651.51" x2="120.82" y2="651.51" stroke="#1a1a1a" stroke-width="1.1" />
<line x1="118.82" y1="708.61" x2="120.82" y2="708.61" stroke="#1a1a1a" stroke-width="1.1" />
<rect x="123.82" y="727.36" width="8" height="11.64" fill="#4FB1CB" stroke="none" stroke-width="0" />
<line x1="127.82" y1="734.47" x2="127.82" y2="721.33" stroke="#1a1a1a" stroke-width="1.4" />
<line x1="126.82" y1="721.33" x2="128.82" y2="721.33" stroke="#1a1a1a" stroke-width="1.1" />
<line x1="126.82" y1="734.47" x2="128.82" y2="734.47" stroke="#1a1a1a" stroke-width="1.1" />
<rect x="131.82" y="728.23" width="8" height="10.77" fill="#10977D" stroke="none" stroke-width="0" />
<line x1="135.82" y1="732.53" x2="135.82" y2="723.91" stroke="#1a1a1a" stroke-width="1.4" />
<line x1="134.82" y1="723.91" x2="136.82" y2="723.91" stroke="#1a1a1a" stroke-width="1.1" />
<line x1="134.82" y1="732.53" x2="136.82" y2="732.53" stroke="#1a1a1a" stroke-width="1.1" />
<rect x="145.56" y="698.7" width="8" height="40.3" fill="#DC4E37" stroke="none" stroke-width="0" />
<line x1="149.56" y1="707.54" x2="149.56" y2="689.65" stroke="#1a1a1a" stroke-width="1.4" />
<line x1="148.56" y1="689.65" x2="150.56" y2="689.65" stroke="#1a1a1a" stroke-width="1.1" />
<line x1="148.56" y1="707.54" x2="150.56" y2="707.54" stroke="#1a1a1a" stroke-width="1.1" />
<rect x="153.56" y="727.15" width="8" height="11.85" fill="#4FB1CB" stroke="none" stroke-width="0" />
<line x1="157.56" y1="734.04" x2="157.56" y2="718.96" stroke="#1a1a1a" stroke-width="1.4" />
<line x1="156.56" y1="718.96" x2="158.56" y2="718.96" stroke="#1a1a1a" stroke-width="1.1" />
<line x1="156.56" y1="734.04" x2="158.56" y2="734.04" stroke="#1a1a1a" stroke-width="1.1" />
<rect x="161.56" y="690.08" width="8" height="48.92" fill="#10977D" stroke="none" stroke-width="0" />
<line x1="165.56" y1="729.73" x2="165.56" y2="650.21" stroke="#1a1a1a" stroke-width="1.4" />
<line x1="164.56" y1="650.21" x2="166.56" y2="650.21" stroke="#1a1a1a" stroke-width="1.1" />
<line x1="164.56" y1="729.73" x2="166.56" y2="729.73" stroke="#1a1a1a" stroke-width="1.1" />
<text transform="translate(68.34,725.96) scale(0.82,1)" font-size="12.5" text-anchor="middle" fill="#000">a</text>
<text transform="translate(90.08,615.3) scale(0.82,1)" font-size="12.5" text-anchor="middle" fill="#000">a</text>
<text transform="translate(98.08,725.96) scale(0.82,1)" font-size="12.5" text-anchor="middle" fill="#000">a</text>
<text transform="translate(106.08,713.68) scale(0.82,1)" font-size="12.5" text-anchor="middle" fill="#000">a</text>
<text transform="translate(119.82,647.31) scale(0.82,1)" font-size="12.5" text-anchor="middle" fill="#000">a</text>
<text transform="translate(127.82,717.13) scale(0.82,1)" font-size="12.5" text-anchor="middle" fill="#000">a</text>
<text transform="translate(135.82,719.71) scale(0.82,1)" font-size="12.5" text-anchor="middle" fill="#000">a</text>
<text transform="translate(149.56,685.45) scale(0.82,1)" font-size="12.5" text-anchor="middle" fill="#000">a</text>
<text transform="translate(157.56,714.76) scale(0.82,1)" font-size="12.5" text-anchor="middle" fill="#000">a</text>
<text transform="translate(165.56,646.01) scale(0.82,1)" font-size="12.5" text-anchor="middle" fill="#000">a</text>
<line x1="46.5" y1="739.5" x2="50.5" y2="739.5" stroke="#333" stroke-width="1" />
<text x="43.7" y="742.5" font-size="12" fill="#4D4D4D" text-anchor="end" >0.0</text>
<line x1="46.5" y1="695.5" x2="50.5" y2="695.5" stroke="#333" stroke-width="1" />
<text x="43.7" y="699.4" font-size="12" fill="#4D4D4D" text-anchor="end" >0.2</text>
<line x1="46.5" y1="652.5" x2="50.5" y2="652.5" stroke="#333" stroke-width="1" />
<text x="43.7" y="656.3" font-size="12" fill="#4D4D4D" text-anchor="end" >0.4</text>
<line x1="46.5" y1="609.5" x2="50.5" y2="609.5" stroke="#333" stroke-width="1" />
<text x="43.7" y="613.2" font-size="12" fill="#4D4D4D" text-anchor="end" >0.6</text>
<line x1="68.5" y1="744.8" x2="68.5" y2="748.3" stroke="#333" stroke-width="1" />
<text transform="translate(72.64,748.2) rotate(-45)" font-size="11.5" text-anchor="end" fill="#4D4D4D" dy="0.72em">2011</text>
<line x1="98.5" y1="744.8" x2="98.5" y2="748.3" stroke="#333" stroke-width="1" />
<text transform="translate(102.38,748.2) rotate(-45)" font-size="11.5" text-anchor="end" fill="#4D4D4D" dy="0.72em">2020</text>
<line x1="127.5" y1="744.8" x2="127.5" y2="748.3" stroke="#333" stroke-width="1" />
<text transform="translate(132.12,748.2) rotate(-45)" font-size="11.5" text-anchor="end" fill="#4D4D4D" dy="0.72em">2021</text>
<line x1="157.5" y1="744.8" x2="157.5" y2="748.3" stroke="#333" stroke-width="1" />
<text transform="translate(161.86,748.2) rotate(-45)" font-size="11.5" text-anchor="end" fill="#4D4D4D" dy="0.72em">2022</text>
<rect x="220" y="584" width="125.4" height="22.8" fill="#D9D9D9" stroke="none" stroke-width="0" />
<text x="287.3" y="599" font-size="12" fill="#1a1a1a" text-anchor="middle" >Endomycorrhizal</text>
<rect x="220.5" y="606.5" width="125" height="138" fill="#fff" stroke="#333" stroke-width="1" />
<rect x="233.91" y="738.9" width="8" height="0" fill="#BEBEBE" stroke="none" stroke-width="0" />
<line x1="237.91" y1="738.9" x2="237.91" y2="738.1" stroke="#1a1a1a" stroke-width="1.4" />
<line x1="236.91" y1="738.1" x2="238.91" y2="738.1" stroke="#1a1a1a" stroke-width="1.1" />
<line x1="236.91" y1="738.9" x2="238.91" y2="738.9" stroke="#1a1a1a" stroke-width="1.1" />
<rect x="255.77" y="716.15" width="8" height="22.75" fill="#DC4E37" stroke="none" stroke-width="0" />
<line x1="259.77" y1="719.47" x2="259.77" y2="713.3" stroke="#1a1a1a" stroke-width="1.4" />
<line x1="258.77" y1="713.3" x2="260.77" y2="713.3" stroke="#1a1a1a" stroke-width="1.1" />
<line x1="258.77" y1="719.47" x2="260.77" y2="719.47" stroke="#1a1a1a" stroke-width="1.1" />
<rect x="263.77" y="738.9" width="8" height="0" fill="#4FB1CB" stroke="none" stroke-width="0" />
<line x1="267.77" y1="738.9" x2="267.77" y2="738.1" stroke="#1a1a1a" stroke-width="1.4" />
<line x1="266.77" y1="738.1" x2="268.77" y2="738.1" stroke="#1a1a1a" stroke-width="1.1" />
<line x1="266.77" y1="738.9" x2="268.77" y2="738.9" stroke="#1a1a1a" stroke-width="1.1" />
<rect x="271.77" y="732.98" width="8" height="5.92" fill="#10977D" stroke="none" stroke-width="0" />
<line x1="275.77" y1="737.72" x2="275.77" y2="728.47" stroke="#1a1a1a" stroke-width="1.4" />
<line x1="274.77" y1="728.47" x2="276.77" y2="728.47" stroke="#1a1a1a" stroke-width="1.1" />
<line x1="274.77" y1="737.72" x2="276.77" y2="737.72" stroke="#1a1a1a" stroke-width="1.1" />
<rect x="285.63" y="677.75" width="8" height="61.15" fill="#DC4E37" stroke="none" stroke-width="0" />
<line x1="289.63" y1="735.39" x2="289.63" y2="620.4" stroke="#1a1a1a" stroke-width="1.4" />
<line x1="288.63" y1="620.4" x2="290.63" y2="620.4" stroke="#1a1a1a" stroke-width="1.1" />
<line x1="288.63" y1="735.39" x2="290.63" y2="735.39" stroke="#1a1a1a" stroke-width="1.1" />
<rect x="293.63" y="738.9" width="8" height="0" fill="#4FB1CB" stroke="none" stroke-width="0" />
<line x1="297.63" y1="738.9" x2="297.63" y2="738.1" stroke="#1a1a1a" stroke-width="1.4" />
<line x1="296.63" y1="738.1" x2="298.63" y2="738.1" stroke="#1a1a1a" stroke-width="1.1" />
<line x1="296.63" y1="738.9" x2="298.63" y2="738.9" stroke="#1a1a1a" stroke-width="1.1" />
<rect x="301.63" y="660.69" width="8" height="78.21" fill="#10977D" stroke="none" stroke-width="0" />
<line x1="305.63" y1="683.44" x2="305.63" y2="637.94" stroke="#1a1a1a" stroke-width="1.4" />
<line x1="304.63" y1="637.94" x2="306.63" y2="637.94" stroke="#1a1a1a" stroke-width="1.1" />
<line x1="304.63" y1="683.44" x2="306.63" y2="683.44" stroke="#1a1a1a" stroke-width="1.1" />
<rect x="315.49" y="704.3" width="8" height="34.6" fill="#DC4E37" stroke="none" stroke-width="0" />
<line x1="319.49" y1="718.52" x2="319.49" y2="690.31" stroke="#1a1a1a" stroke-width="1.4" />
<line x1="318.49" y1="690.31" x2="320.49" y2="690.31" stroke="#1a1a1a" stroke-width="1.1" />
<line x1="318.49" y1="718.52" x2="320.49" y2="718.52" stroke="#1a1a1a" stroke-width="1.1" />
<rect x="323.49" y="738.9" width="8" height="0" fill="#4FB1CB" stroke="none" stroke-width="0" />
<line x1="327.49" y1="738.9" x2="327.49" y2="738.1" stroke="#1a1a1a" stroke-width="1.4" />
<line x1="326.49" y1="738.1" x2="328.49" y2="738.1" stroke="#1a1a1a" stroke-width="1.1" />
<line x1="326.49" y1="738.9" x2="328.49" y2="738.9" stroke="#1a1a1a" stroke-width="1.1" />
<rect x="331.49" y="732.26" width="8" height="6.64" fill="#10977D" stroke="none" stroke-width="0" />
<line x1="335.49" y1="738.9" x2="335.49" y2="725.3" stroke="#1a1a1a" stroke-width="1.4" />
<line x1="334.49" y1="725.3" x2="336.49" y2="725.3" stroke="#1a1a1a" stroke-width="1.1" />
<line x1="334.49" y1="738.9" x2="336.49" y2="738.9" stroke="#1a1a1a" stroke-width="1.1" />
<text transform="translate(237.91,734.42) scale(0.82,1)" font-size="12.5" text-anchor="middle" fill="#000">a</text>
<text transform="translate(259.77,709.1) scale(0.82,1)" font-size="12.5" text-anchor="middle" fill="#000">a</text>
<text transform="translate(267.77,734.42) scale(0.82,1)" font-size="12.5" text-anchor="middle" fill="#000">a</text>
<text transform="translate(275.77,724.27) scale(0.82,1)" font-size="12.5" text-anchor="middle" fill="#000">a</text>
<text transform="translate(289.63,616.2) scale(0.82,1)" font-size="12.5" text-anchor="middle" fill="#000">a</text>
<text transform="translate(297.63,734.42) scale(0.82,1)" font-size="12.5" text-anchor="middle" fill="#000">a</text>
<text transform="translate(305.63,633.74) scale(0.82,1)" font-size="12.5" text-anchor="middle" fill="#000">a</text>
<text transform="translate(319.49,686.11) scale(0.82,1)" font-size="12.5" text-anchor="middle" fill="#000">a</text>
<text transform="translate(327.49,734.42) scale(0.82,1)" font-size="12.5" text-anchor="middle" fill="#000">a</text>
<text transform="translate(335.49,721.1) scale(0.82,1)" font-size="12.5" text-anchor="middle" fill="#000">a</text>
<line x1="216" y1="738.5" x2="220" y2="738.5" stroke="#333" stroke-width="1" />
<text x="213.2" y="742.4" font-size="12" fill="#4D4D4D" text-anchor="end" >0.00</text>
<line x1="216" y1="715.5" x2="220" y2="715.5" stroke="#333" stroke-width="1" />
<text x="213.2" y="718.7" font-size="12" fill="#4D4D4D" text-anchor="end" >0.05</text>
<line x1="216" y1="691.5" x2="220" y2="691.5" stroke="#333" stroke-width="1" />
<text x="213.2" y="695" font-size="12" fill="#4D4D4D" text-anchor="end" >0.10</text>
<line x1="216" y1="667.5" x2="220" y2="667.5" stroke="#333" stroke-width="1" />
<text x="213.2" y="671.3" font-size="12" fill="#4D4D4D" text-anchor="end" >0.15</text>
<line x1="216" y1="644.5" x2="220" y2="644.5" stroke="#333" stroke-width="1" />
<text x="213.2" y="647.6" font-size="12" fill="#4D4D4D" text-anchor="end" >0.20</text>
<line x1="216" y1="620.5" x2="220" y2="620.5" stroke="#333" stroke-width="1" />
<text x="213.2" y="623.9" font-size="12" fill="#4D4D4D" text-anchor="end" >0.25</text>
<line x1="237.5" y1="744.8" x2="237.5" y2="748.3" stroke="#333" stroke-width="1" />
<text transform="translate(242.21,748.2) rotate(-45)" font-size="11.5" text-anchor="end" fill="#4D4D4D" dy="0.72em">2011</text>
<line x1="267.5" y1="744.8" x2="267.5" y2="748.3" stroke="#333" stroke-width="1" />
<text transform="translate(272.07,748.2) rotate(-45)" font-size="11.5" text-anchor="end" fill="#4D4D4D" dy="0.72em">2020</text>
<line x1="297.5" y1="744.8" x2="297.5" y2="748.3" stroke="#333" stroke-width="1" />
<text transform="translate(301.93,748.2) rotate(-45)" font-size="11.5" text-anchor="end" fill="#4D4D4D" dy="0.72em">2021</text>
<line x1="327.5" y1="744.8" x2="327.5" y2="748.3" stroke="#333" stroke-width="1" />
<text transform="translate(331.79,748.2) rotate(-45)" font-size="11.5" text-anchor="end" fill="#4D4D4D" dy="0.72em">2022</text>
<rect x="384.9" y="584" width="125.3" height="22.8" fill="#D9D9D9" stroke="none" stroke-width="0" />
<text x="448.25" y="599" font-size="12" fill="#1a1a1a" text-anchor="middle" >Ericoid mycorrhizal</text>
<rect x="384.5" y="606.5" width="126" height="138" fill="#fff" stroke="#333" stroke-width="1" />
<rect x="398.8" y="737.64" width="8" height="0.56" fill="#BEBEBE" stroke="none" stroke-width="0" />
<line x1="402.8" y1="738.2" x2="402.8" y2="736.6" stroke="#1a1a1a" stroke-width="1.4" />
<line x1="401.8" y1="736.6" x2="403.8" y2="736.6" stroke="#1a1a1a" stroke-width="1.1" />
<line x1="401.8" y1="738.2" x2="403.8" y2="738.2" stroke="#1a1a1a" stroke-width="1.1" />
<rect x="420.63" y="737.96" width="8" height="0.24" fill="#DC4E37" stroke="none" stroke-width="0" />
<line x1="424.63" y1="738.2" x2="424.63" y2="737.4" stroke="#1a1a1a" stroke-width="1.4" />
<line x1="423.63" y1="737.4" x2="425.63" y2="737.4" stroke="#1a1a1a" stroke-width="1.1" />
<line x1="423.63" y1="738.2" x2="425.63" y2="738.2" stroke="#1a1a1a" stroke-width="1.1" />
<rect x="428.63" y="735.33" width="8" height="2.87" fill="#4FB1CB" stroke="none" stroke-width="0" />
<line x1="432.63" y1="736.6" x2="432.63" y2="733.01" stroke="#1a1a1a" stroke-width="1.4" />
<line x1="431.63" y1="733.01" x2="433.63" y2="733.01" stroke="#1a1a1a" stroke-width="1.1" />
<line x1="431.63" y1="736.6" x2="433.63" y2="736.6" stroke="#1a1a1a" stroke-width="1.1" />
<rect x="436.63" y="669.81" width="8" height="68.39" fill="#10977D" stroke="none" stroke-width="0" />
<line x1="440.63" y1="685.53" x2="440.63" y2="654.73" stroke="#1a1a1a" stroke-width="1.4" />
<line x1="439.63" y1="654.73" x2="441.63" y2="654.73" stroke="#1a1a1a" stroke-width="1.1" />
<line x1="439.63" y1="685.53" x2="441.63" y2="685.53" stroke="#1a1a1a" stroke-width="1.1" />
<rect x="450.47" y="737.24" width="8" height="0.96" fill="#DC4E37" stroke="none" stroke-width="0" />
<line x1="454.47" y1="737.96" x2="454.47" y2="736.6" stroke="#1a1a1a" stroke-width="1.4" />
<line x1="453.47" y1="736.6" x2="455.47" y2="736.6" stroke="#1a1a1a" stroke-width="1.1" />
<line x1="453.47" y1="737.96" x2="455.47" y2="737.96" stroke="#1a1a1a" stroke-width="1.1" />
<rect x="458.47" y="724" width="8" height="14.2" fill="#4FB1CB" stroke="none" stroke-width="0" />
<line x1="462.47" y1="732.22" x2="462.47" y2="715.38" stroke="#1a1a1a" stroke-width="1.4" />
<line x1="461.47" y1="715.38" x2="463.47" y2="715.38" stroke="#1a1a1a" stroke-width="1.1" />
<line x1="461.47" y1="732.22" x2="463.47" y2="732.22" stroke="#1a1a1a" stroke-width="1.1" />
<rect x="466.47" y="644.51" width="8" height="93.69" fill="#10977D" stroke="none" stroke-width="0" />
<line x1="470.47" y1="672.76" x2="470.47" y2="616.58" stroke="#1a1a1a" stroke-width="1.4" />
<line x1="469.47" y1="616.58" x2="471.47" y2="616.58" stroke="#1a1a1a" stroke-width="1.1" />
<line x1="469.47" y1="672.76" x2="471.47" y2="672.76" stroke="#1a1a1a" stroke-width="1.1" />
<rect x="480.3" y="737.24" width="8" height="0.96" fill="#DC4E37" stroke="none" stroke-width="0" />
<line x1="484.3" y1="737.96" x2="484.3" y2="736.6" stroke="#1a1a1a" stroke-width="1.4" />
<line x1="483.3" y1="736.6" x2="485.3" y2="736.6" stroke="#1a1a1a" stroke-width="1.1" />
<line x1="483.3" y1="737.96" x2="485.3" y2="737.96" stroke="#1a1a1a" stroke-width="1.1" />
<rect x="488.3" y="736.21" width="8" height="2" fill="#4FB1CB" stroke="none" stroke-width="0" />
<line x1="492.3" y1="736.76" x2="492.3" y2="735.65" stroke="#1a1a1a" stroke-width="1.4" />
<line x1="491.3" y1="735.65" x2="493.3" y2="735.65" stroke="#1a1a1a" stroke-width="1.1" />
<line x1="491.3" y1="736.76" x2="493.3" y2="736.76" stroke="#1a1a1a" stroke-width="1.1" />
<rect x="496.3" y="708.91" width="8" height="29.29" fill="#10977D" stroke="none" stroke-width="0" />
<line x1="500.3" y1="719.21" x2="500.3" y2="697.98" stroke="#1a1a1a" stroke-width="1.4" />
<line x1="499.3" y1="697.98" x2="501.3" y2="697.98" stroke="#1a1a1a" stroke-width="1.1" />
<line x1="499.3" y1="719.21" x2="501.3" y2="719.21" stroke="#1a1a1a" stroke-width="1.1" />
<text transform="translate(402.8,732.4) scale(0.82,1)" font-size="12.5" text-anchor="middle" fill="#000">c</text>
<text transform="translate(424.63,733.36) scale(0.82,1)" font-size="12.5" text-anchor="middle" fill="#000">c</text>
<text transform="translate(432.63,728.81) scale(0.82,1)" font-size="12.5" text-anchor="middle" fill="#000">c</text>
<text transform="translate(440.63,650.53) scale(0.82,1)" font-size="12.5" text-anchor="middle" fill="#000">ab</text>
<text transform="translate(454.47,732.4) scale(0.82,1)" font-size="12.5" text-anchor="middle" fill="#000">c</text>
<text transform="translate(462.47,711.18) scale(0.82,1)" font-size="12.5" text-anchor="middle" fill="#000">c</text>
<text transform="translate(470.47,615.3) scale(0.82,1)" font-size="12.5" text-anchor="middle" fill="#000">a</text>
<text transform="translate(484.3,732.4) scale(0.82,1)" font-size="12.5" text-anchor="middle" fill="#000">c</text>
<text transform="translate(492.3,731.45) scale(0.82,1)" font-size="12.5" text-anchor="middle" fill="#000">c</text>
<text transform="translate(500.3,693.78) scale(0.82,1)" font-size="12.5" text-anchor="middle" fill="#000">bc</text>
<line x1="380.9" y1="738.5" x2="384.9" y2="738.5" stroke="#333" stroke-width="1" />
<text x="378.1" y="741.7" font-size="12" fill="#4D4D4D" text-anchor="end" >0.00</text>
<line x1="380.9" y1="698.5" x2="384.9" y2="698.5" stroke="#333" stroke-width="1" />
<text x="378.1" y="701.8" font-size="12" fill="#4D4D4D" text-anchor="end" >0.05</text>
<line x1="380.9" y1="658.5" x2="384.9" y2="658.5" stroke="#333" stroke-width="1" />
<text x="378.1" y="661.9" font-size="12" fill="#4D4D4D" text-anchor="end" >0.10</text>
<line x1="380.9" y1="618.5" x2="384.9" y2="618.5" stroke="#333" stroke-width="1" />
<text x="378.1" y="622" font-size="12" fill="#4D4D4D" text-anchor="end" >0.15</text>
<line x1="402.5" y1="744.8" x2="402.5" y2="748.3" stroke="#333" stroke-width="1" />
<text transform="translate(407.1,748.2) rotate(-45)" font-size="11.5" text-anchor="end" fill="#4D4D4D" dy="0.72em">2011</text>
<line x1="432.5" y1="744.8" x2="432.5" y2="748.3" stroke="#333" stroke-width="1" />
<text transform="translate(436.93,748.2) rotate(-45)" font-size="11.5" text-anchor="end" fill="#4D4D4D" dy="0.72em">2020</text>
<line x1="462.5" y1="744.8" x2="462.5" y2="748.3" stroke="#333" stroke-width="1" />
<text transform="translate(466.77,748.2) rotate(-45)" font-size="11.5" text-anchor="end" fill="#4D4D4D" dy="0.72em">2021</text>
<line x1="492.5" y1="744.8" x2="492.5" y2="748.3" stroke="#333" stroke-width="1" />
<text transform="translate(496.6,748.2) rotate(-45)" font-size="11.5" text-anchor="end" fill="#4D4D4D" dy="0.72em">2022</text>
<rect x="558.5" y="584" width="125.3" height="22.8" fill="#D9D9D9" stroke="none" stroke-width="0" />
<text x="621.95" y="599" font-size="12" fill="#1a1a1a" text-anchor="middle" >Arbuscular mycorrhizal</text>
<rect x="558.5" y="606.5" width="125" height="138" fill="#fff" stroke="#333" stroke-width="1" />
<rect x="572.4" y="696.38" width="8" height="42.12" fill="#BEBEBE" stroke="none" stroke-width="0" />
<line x1="576.4" y1="710.81" x2="576.4" y2="681.17" stroke="#1a1a1a" stroke-width="1.4" />
<line x1="575.4" y1="681.17" x2="577.4" y2="681.17" stroke="#1a1a1a" stroke-width="1.1" />
<line x1="575.4" y1="710.81" x2="577.4" y2="710.81" stroke="#1a1a1a" stroke-width="1.1" />
<rect x="594.23" y="725.63" width="8" height="12.87" fill="#DC4E37" stroke="none" stroke-width="0" />
<line x1="598.23" y1="733.43" x2="598.23" y2="717.83" stroke="#1a1a1a" stroke-width="1.4" />
<line x1="597.23" y1="717.83" x2="599.23" y2="717.83" stroke="#1a1a1a" stroke-width="1.1" />
<line x1="597.23" y1="733.43" x2="599.23" y2="733.43" stroke="#1a1a1a" stroke-width="1.1" />
<rect x="602.23" y="724.46" width="8" height="14.04" fill="#4FB1CB" stroke="none" stroke-width="0" />
<line x1="606.23" y1="732.46" x2="606.23" y2="715.68" stroke="#1a1a1a" stroke-width="1.4" />
<line x1="605.23" y1="715.68" x2="607.23" y2="715.68" stroke="#1a1a1a" stroke-width="1.1" />
<line x1="605.23" y1="732.46" x2="607.23" y2="732.46" stroke="#1a1a1a" stroke-width="1.1" />
<rect x="610.23" y="719" width="8" height="19.5" fill="#10977D" stroke="none" stroke-width="0" />
<line x1="614.23" y1="732.46" x2="614.23" y2="704.76" stroke="#1a1a1a" stroke-width="1.4" />
<line x1="613.23" y1="704.76" x2="615.23" y2="704.76" stroke="#1a1a1a" stroke-width="1.1" />
<line x1="613.23" y1="732.46" x2="615.23" y2="732.46" stroke="#1a1a1a" stroke-width="1.1" />
<rect x="624.07" y="681.17" width="8" height="57.33" fill="#DC4E37" stroke="none" stroke-width="0" />
<line x1="628.07" y1="707.69" x2="628.07" y2="654.26" stroke="#1a1a1a" stroke-width="1.4" />
<line x1="627.07" y1="654.26" x2="629.07" y2="654.26" stroke="#1a1a1a" stroke-width="1.1" />
<line x1="627.07" y1="707.69" x2="629.07" y2="707.69" stroke="#1a1a1a" stroke-width="1.1" />
<rect x="632.07" y="727.38" width="8" height="11.12" fill="#4FB1CB" stroke="none" stroke-width="0" />
<line x1="636.07" y1="732.26" x2="636.07" y2="722.12" stroke="#1a1a1a" stroke-width="1.4" />
<line x1="635.07" y1="722.12" x2="637.07" y2="722.12" stroke="#1a1a1a" stroke-width="1.1" />
<line x1="635.07" y1="732.26" x2="637.07" y2="732.26" stroke="#1a1a1a" stroke-width="1.1" />
<rect x="640.07" y="721.34" width="8" height="17.16" fill="#10977D" stroke="none" stroke-width="0" />
<line x1="644.07" y1="728.55" x2="644.07" y2="713.74" stroke="#1a1a1a" stroke-width="1.4" />
<line x1="643.07" y1="713.74" x2="645.07" y2="713.74" stroke="#1a1a1a" stroke-width="1.1" />
<line x1="643.07" y1="728.55" x2="645.07" y2="728.55" stroke="#1a1a1a" stroke-width="1.1" />
<rect x="653.9" y="721.53" width="8" height="16.97" fill="#DC4E37" stroke="none" stroke-width="0" />
<line x1="657.9" y1="732.26" x2="657.9" y2="710.81" stroke="#1a1a1a" stroke-width="1.4" />
<line x1="656.9" y1="710.81" x2="658.9" y2="710.81" stroke="#1a1a1a" stroke-width="1.1" />
<line x1="656.9" y1="732.26" x2="658.9" y2="732.26" stroke="#1a1a1a" stroke-width="1.1" />
<rect x="661.9" y="722.51" width="8" height="15.99" fill="#4FB1CB" stroke="none" stroke-width="0" />
<line x1="665.9" y1="733.62" x2="665.9" y2="710.81" stroke="#1a1a1a" stroke-width="1.4" />
<line x1="664.9" y1="710.81" x2="666.9" y2="710.81" stroke="#1a1a1a" stroke-width="1.1" />
<line x1="664.9" y1="733.62" x2="666.9" y2="733.62" stroke="#1a1a1a" stroke-width="1.1" />
<rect x="669.9" y="652.31" width="8" height="86.19" fill="#10977D" stroke="none" stroke-width="0" />
<line x1="673.9" y1="684.88" x2="673.9" y2="619.75" stroke="#1a1a1a" stroke-width="1.4" />
<line x1="672.9" y1="619.75" x2="674.9" y2="619.75" stroke="#1a1a1a" stroke-width="1.1" />
<line x1="672.9" y1="684.88" x2="674.9" y2="684.88" stroke="#1a1a1a" stroke-width="1.1" />
<text transform="translate(576.4,676.97) scale(0.82,1)" font-size="12.5" text-anchor="middle" fill="#000">a</text>
<text transform="translate(598.23,713.63) scale(0.82,1)" font-size="12.5" text-anchor="middle" fill="#000">a</text>
<text transform="translate(606.23,711.48) scale(0.82,1)" font-size="12.5" text-anchor="middle" fill="#000">a</text>
<text transform="translate(614.23,700.56) scale(0.82,1)" font-size="12.5" text-anchor="middle" fill="#000">a</text>
<text transform="translate(628.07,650.06) scale(0.82,1)" font-size="12.5" text-anchor="middle" fill="#000">a</text>
<text transform="translate(636.07,717.92) scale(0.82,1)" font-size="12.5" text-anchor="middle" fill="#000">a</text>
<text transform="translate(644.07,709.53) scale(0.82,1)" font-size="12.5" text-anchor="middle" fill="#000">a</text>
<text transform="translate(657.9,706.61) scale(0.82,1)" font-size="12.5" text-anchor="middle" fill="#000">a</text>
<text transform="translate(665.9,706.61) scale(0.82,1)" font-size="12.5" text-anchor="middle" fill="#000">a</text>
<text transform="translate(673.9,615.54) scale(0.82,1)" font-size="12.5" text-anchor="middle" fill="#000">a</text>
<line x1="554.5" y1="738.5" x2="558.5" y2="738.5" stroke="#333" stroke-width="1" />
<text x="551.7" y="742" font-size="12" fill="#4D4D4D" text-anchor="end" >0.00</text>
<line x1="554.5" y1="699.5" x2="558.5" y2="699.5" stroke="#333" stroke-width="1" />
<text x="551.7" y="703" font-size="12" fill="#4D4D4D" text-anchor="end" >0.02</text>
<line x1="554.5" y1="660.5" x2="558.5" y2="660.5" stroke="#333" stroke-width="1" />
<text x="551.7" y="664" font-size="12" fill="#4D4D4D" text-anchor="end" >0.04</text>
<line x1="554.5" y1="621.5" x2="558.5" y2="621.5" stroke="#333" stroke-width="1" />
<text x="551.7" y="625" font-size="12" fill="#4D4D4D" text-anchor="end" >0.06</text>
<line x1="576.5" y1="744.8" x2="576.5" y2="748.3" stroke="#333" stroke-width="1" />
<text transform="translate(580.7,748.2) rotate(-45)" font-size="11.5" text-anchor="end" fill="#4D4D4D" dy="0.72em">2011</text>
<line x1="606.5" y1="744.8" x2="606.5" y2="748.3" stroke="#333" stroke-width="1" />
<text transform="translate(610.53,748.2) rotate(-45)" font-size="11.5" text-anchor="end" fill="#4D4D4D" dy="0.72em">2020</text>
<line x1="636.5" y1="744.8" x2="636.5" y2="748.3" stroke="#333" stroke-width="1" />
<text transform="translate(640.37,748.2) rotate(-45)" font-size="11.5" text-anchor="end" fill="#4D4D4D" dy="0.72em">2021</text>
<line x1="665.5" y1="744.8" x2="665.5" y2="748.3" stroke="#333" stroke-width="1" />
<text transform="translate(670.2,748.2) rotate(-45)" font-size="11.5" text-anchor="end" fill="#4D4D4D" dy="0.72em">2022</text>
<text transform="translate(14.9,488.45) rotate(-90)" font-size="14.4" text-anchor="middle" fill="#000" textLength="153.1" lengthAdjust="spacingAndGlyphs">Relative abundance (%)</text>
<rect x="504.4" y="236.4" width="9.6" height="8.2" fill="#999999" stroke="#222" stroke-width="0.8" />
<text x="517.4" y="244.4" font-size="12" fill="#555" text-anchor="start" >Base</text>
<rect x="552.4" y="236.4" width="9.6" height="8.2" fill="#DC4E37" stroke="#222" stroke-width="0.8" />
<text x="564.6" y="244.4" font-size="12" fill="#555" text-anchor="start" >CS</text>
<rect x="590.4" y="236.4" width="9.6" height="8.2" fill="#4FB1CB" stroke="#222" stroke-width="0.8" />
<text x="602.7" y="244.4" font-size="12" fill="#555" text-anchor="start" >MS</text>
<rect x="628.7" y="236.4" width="9.6" height="8.2" fill="#10977D" stroke="#222" stroke-width="0.8" />
<text x="641.3" y="244.4" font-size="12" fill="#555" text-anchor="start" >MMS</text>
</svg>
</body></html>
